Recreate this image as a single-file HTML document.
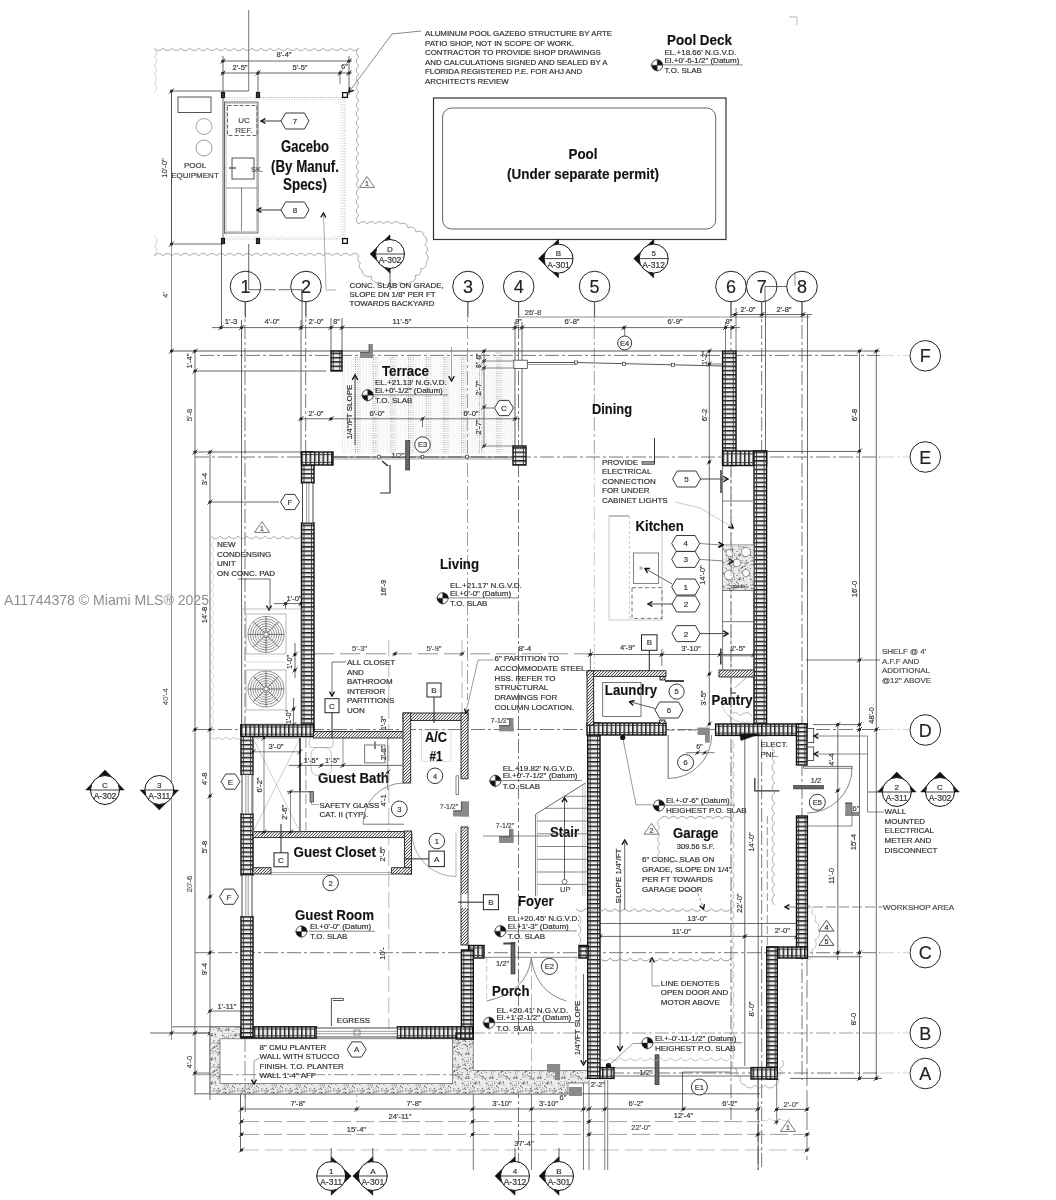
<!DOCTYPE html>
<html><head><meta charset="utf-8"><title>Floor Plan</title>
<style>html,body{margin:0;padding:0;background:#fff;}svg{display:block;font-family:"Liberation Sans",sans-serif;}text{stroke:#333;stroke-width:0.18px;}</style>
</head><body>
<svg width="1056" height="1200" viewBox="0 0 1056 1200">
<defs>
<pattern id="cmuV" width="6" height="4.3" patternUnits="userSpaceOnUse"><rect width="6" height="4.3" fill="#f2f2f2"/><rect x="0" y="0" width="6" height="1.5" fill="#1c1c1c"/><rect x="0" y="1.5" width="6" height="0.5" fill="#999"/></pattern>
<pattern id="cmuH" width="4.3" height="6" patternUnits="userSpaceOnUse"><rect width="4.3" height="6" fill="#f2f2f2"/><rect x="0" y="0" width="1.5" height="6" fill="#1c1c1c"/><rect x="1.5" y="0" width="0.5" height="6" fill="#999"/></pattern>
<pattern id="diag" width="3" height="3" patternUnits="userSpaceOnUse"><rect width="3" height="3" fill="#ececec"/><path d="M-1,1 L1,-1 M0,3 L3,0 M2,4 L4,2" stroke="#444" stroke-width="0.9"/></pattern>
<pattern id="stip" width="24" height="24" patternUnits="userSpaceOnUse"><rect width="24" height="24" fill="#ececec"/><circle cx="7.8" cy="3.6" r="0.35" fill="#555"/><circle cx="1.7" cy="12.9" r="0.55" fill="#555"/><circle cx="14.0" cy="21.8" r="0.45" fill="#555"/><circle cx="0.9" cy="10.4" r="0.35" fill="#555"/><circle cx="5.8" cy="13.2" r="0.35" fill="#555"/><circle cx="19.8" cy="3.0" r="0.45" fill="#555"/><circle cx="15.1" cy="14.0" r="0.35" fill="#555"/><circle cx="13.9" cy="9.5" r="0.45" fill="#555"/><circle cx="1.1" cy="20.6" r="0.55" fill="#555"/><circle cx="10.1" cy="13.0" r="0.55" fill="#555"/><circle cx="13.4" cy="16.4" r="0.35" fill="#555"/><circle cx="14.0" cy="15.3" r="0.55" fill="#555"/><circle cx="2.3" cy="17.1" r="0.35" fill="#555"/><circle cx="14.9" cy="11.9" r="0.65" fill="#555"/><circle cx="18.7" cy="11.2" r="0.65" fill="#555"/><circle cx="8.7" cy="6.0" r="0.45" fill="#555"/><circle cx="16.8" cy="5.9" r="0.55" fill="#555"/><circle cx="12.6" cy="21.0" r="0.65" fill="#555"/><circle cx="6.9" cy="23.5" r="0.35" fill="#555"/><circle cx="12.3" cy="4.0" r="0.55" fill="#555"/><circle cx="3.6" cy="11.7" r="0.35" fill="#555"/><circle cx="23.1" cy="1.9" r="0.55" fill="#555"/><circle cx="8.2" cy="8.4" r="0.65" fill="#555"/><circle cx="13.9" cy="10.9" r="0.35" fill="#555"/><circle cx="22.7" cy="11.4" r="0.35" fill="#555"/><circle cx="1.5" cy="16.8" r="0.65" fill="#555"/><circle cx="6.8" cy="9.3" r="0.55" fill="#555"/><circle cx="0.5" cy="11.1" r="0.45" fill="#555"/><circle cx="14.7" cy="11.8" r="0.45" fill="#555"/><circle cx="18.4" cy="3.1" r="0.45" fill="#555"/><circle cx="9.5" cy="22.0" r="0.65" fill="#555"/><circle cx="1.9" cy="10.8" r="0.55" fill="#555"/><circle cx="21.2" cy="19.7" r="0.55" fill="#555"/><circle cx="17.0" cy="23.7" r="0.65" fill="#555"/><circle cx="23.0" cy="3.6" r="0.45" fill="#555"/><circle cx="3.6" cy="15.8" r="0.35" fill="#555"/><circle cx="11.6" cy="14.1" r="0.55" fill="#555"/><circle cx="6.8" cy="3.5" r="0.55" fill="#555"/><circle cx="14.6" cy="7.6" r="0.45" fill="#555"/><circle cx="16.6" cy="12.4" r="0.35" fill="#555"/><circle cx="11.0" cy="20.9" r="0.65" fill="#555"/><circle cx="9.6" cy="9.5" r="0.65" fill="#555"/><circle cx="15.2" cy="1.5" r="0.35" fill="#555"/><circle cx="23.6" cy="10.6" r="0.35" fill="#555"/><circle cx="8.2" cy="1.3" r="0.35" fill="#555"/><circle cx="13.6" cy="12.9" r="0.55" fill="#555"/><circle cx="14.7" cy="1.7" r="0.45" fill="#555"/><circle cx="14.7" cy="3.6" r="0.55" fill="#555"/><circle cx="22.9" cy="14.5" r="0.65" fill="#555"/><circle cx="2.9" cy="20.4" r="0.65" fill="#555"/><circle cx="11.5" cy="7.5" r="0.45" fill="#555"/><circle cx="2.5" cy="8.2" r="0.55" fill="#555"/><circle cx="11.5" cy="16.6" r="0.35" fill="#555"/><circle cx="4.9" cy="22.8" r="0.55" fill="#555"/><circle cx="3.5" cy="13.0" r="0.35" fill="#555"/><circle cx="18.2" cy="7.2" r="0.35" fill="#555"/><circle cx="16.7" cy="6.3" r="0.55" fill="#555"/><circle cx="21.8" cy="8.5" r="0.45" fill="#555"/><circle cx="12.8" cy="18.7" r="0.55" fill="#555"/><circle cx="15.3" cy="14.7" r="0.45" fill="#555"/><circle cx="19.3" cy="19.6" r="0.45" fill="#555"/><circle cx="4.8" cy="11.8" r="0.35" fill="#555"/><circle cx="23.8" cy="19.0" r="0.65" fill="#555"/><circle cx="6.2" cy="16.6" r="0.55" fill="#555"/><circle cx="10.7" cy="22.5" r="0.55" fill="#555"/><circle cx="22.9" cy="8.8" r="0.45" fill="#555"/><circle cx="2.5" cy="11.3" r="0.55" fill="#555"/><circle cx="4.9" cy="15.0" r="0.35" fill="#555"/><circle cx="11.5" cy="15.7" r="0.35" fill="#555"/><circle cx="20.0" cy="2.9" r="0.65" fill="#555"/><circle cx="18.8" cy="18.0" r="0.65" fill="#555"/><circle cx="21.3" cy="10.4" r="0.55" fill="#555"/><circle cx="2.1" cy="22.7" r="0.65" fill="#555"/><circle cx="11.1" cy="17.8" r="0.35" fill="#555"/><circle cx="17.4" cy="4.1" r="0.45" fill="#555"/><circle cx="0.7" cy="14.2" r="0.65" fill="#555"/><circle cx="19.4" cy="3.5" r="0.65" fill="#555"/><circle cx="15.8" cy="8.4" r="0.45" fill="#555"/><circle cx="0.5" cy="19.2" r="0.35" fill="#555"/><circle cx="12.6" cy="22.4" r="0.65" fill="#555"/><circle cx="23.7" cy="4.7" r="0.45" fill="#555"/><circle cx="0.7" cy="5.1" r="0.45" fill="#555"/><circle cx="18.3" cy="7.8" r="0.65" fill="#555"/><circle cx="20.0" cy="1.5" r="0.55" fill="#555"/><circle cx="21.5" cy="15.9" r="0.65" fill="#555"/><circle cx="19.9" cy="21.1" r="0.45" fill="#555"/><circle cx="12.8" cy="12.6" r="0.35" fill="#555"/><circle cx="20.9" cy="18.6" r="0.35" fill="#555"/><circle cx="18.6" cy="3.6" r="0.45" fill="#555"/><circle cx="11.4" cy="17.4" r="0.35" fill="#555"/><circle cx="7.8" cy="12.4" r="0.65" fill="#555"/><circle cx="18.8" cy="2.5" r="0.35" fill="#555"/><circle cx="6.0" cy="6.6" r="0.35" fill="#555"/><circle cx="12.2" cy="13.5" r="0.35" fill="#555"/><circle cx="10.6" cy="14.7" r="0.45" fill="#555"/><circle cx="16.6" cy="10.9" r="0.65" fill="#555"/><circle cx="12.2" cy="5.9" r="0.55" fill="#555"/><circle cx="22.1" cy="21.4" r="0.45" fill="#555"/><circle cx="20.2" cy="3.3" r="0.35" fill="#555"/><circle cx="9.4" cy="7.6" r="0.45" fill="#555"/><circle cx="10.3" cy="5.1" r="0.55" fill="#555"/><circle cx="18.8" cy="21.5" r="0.45" fill="#555"/><circle cx="22.5" cy="15.4" r="0.55" fill="#555"/><circle cx="3.4" cy="21.2" r="0.65" fill="#555"/><circle cx="5.3" cy="22.9" r="0.65" fill="#555"/><circle cx="21.2" cy="3.9" r="0.45" fill="#555"/><circle cx="3.9" cy="10.4" r="0.65" fill="#555"/><circle cx="8.1" cy="4.7" r="0.55" fill="#555"/><circle cx="2.2" cy="8.8" r="0.55" fill="#555"/><circle cx="13.3" cy="10.6" r="0.35" fill="#555"/><circle cx="9.2" cy="12.4" r="0.55" fill="#555"/><circle cx="12.3" cy="1.5" r="0.45" fill="#555"/><circle cx="23.3" cy="2.5" r="0.55" fill="#555"/><circle cx="6.5" cy="21.7" r="0.45" fill="#555"/><circle cx="6.5" cy="3.1" r="0.65" fill="#555"/><circle cx="20.4" cy="16.2" r="0.55" fill="#555"/><circle cx="9.7" cy="12.9" r="0.65" fill="#555"/><circle cx="16.8" cy="2.1" r="0.35" fill="#555"/><circle cx="19.2" cy="4.4" r="0.35" fill="#555"/><circle cx="6.5" cy="0.4" r="0.35" fill="#555"/></pattern>
<pattern id="terr" x="355" y="357" width="17.7" height="2.3" patternUnits="userSpaceOnUse"><rect x="0" y="0" width="1" height="1" fill="#888"/><rect x="2.2" y="0" width="1" height="1" fill="#999"/><rect x="4.4" y="0" width="1" height="1" fill="#aaa"/><rect x="7.4" y="1.1" width="0.9" height="0.9" fill="#ccc"/><rect x="10.4" y="0" width="0.9" height="0.9" fill="#ccc"/><rect x="13.4" y="1.1" width="0.9" height="0.9" fill="#ccc"/><rect x="15.6" y="0" width="0.9" height="0.9" fill="#d5d5d5"/></pattern>
</defs>
<rect width="1056" height="1200" fill="#fff"/>
<g style="filter:blur(0.45px)">
<line x1="245.0" y1="302.0" x2="245.0" y2="1040.0" stroke="#555" stroke-width="0.8" stroke-dasharray="14 3 3 3"/>
<line x1="305.7" y1="302.0" x2="305.7" y2="724.0" stroke="#555" stroke-width="0.8" stroke-dasharray="14 3 3 3"/>
<line x1="467.5" y1="302.0" x2="467.5" y2="700.0" stroke="#777" stroke-width="0.7" stroke-dasharray="14 3 3 3"/>
<line x1="518.5" y1="302.0" x2="518.5" y2="1170.0" stroke="#555" stroke-width="0.8" stroke-dasharray="14 3 3 3"/>
<line x1="594.3" y1="302.0" x2="594.3" y2="460.0" stroke="#777" stroke-width="0.7" stroke-dasharray="14 3 3 3"/>
<line x1="594.3" y1="460.0" x2="594.3" y2="725.0" stroke="#aaa" stroke-width="0.6" stroke-dasharray="14 3 3 3"/>
<line x1="731.0" y1="302.0" x2="731.0" y2="1120.0" stroke="#555" stroke-width="0.8" stroke-dasharray="14 3 3 3"/>
<line x1="761.7" y1="302.0" x2="761.7" y2="1170.0" stroke="#555" stroke-width="0.8" stroke-dasharray="14 3 3 3"/>
<line x1="802.0" y1="302.0" x2="802.0" y2="1080.0" stroke="#555" stroke-width="0.8" stroke-dasharray="14 3 3 3"/>
<line x1="200.0" y1="355.4" x2="880.0" y2="355.4" stroke="#555" stroke-width="0.8" stroke-dasharray="14 3 3 3"/>
<line x1="880.0" y1="355.4" x2="909.0" y2="355.4" stroke="#bbb" stroke-width="0.6" stroke-dasharray="14 3 3 3"/>
<line x1="195.0" y1="457.0" x2="880.0" y2="457.0" stroke="#555" stroke-width="0.8" stroke-dasharray="14 3 3 3"/>
<line x1="880.0" y1="457.0" x2="909.0" y2="457.0" stroke="#bbb" stroke-width="0.6" stroke-dasharray="14 3 3 3"/>
<line x1="195.0" y1="729.5" x2="880.0" y2="729.5" stroke="#555" stroke-width="0.8" stroke-dasharray="14 3 3 3"/>
<line x1="880.0" y1="729.5" x2="909.0" y2="729.5" stroke="#bbb" stroke-width="0.6" stroke-dasharray="14 3 3 3"/>
<line x1="195.0" y1="952.7" x2="880.0" y2="952.7" stroke="#555" stroke-width="0.8" stroke-dasharray="14 3 3 3"/>
<line x1="880.0" y1="952.7" x2="909.0" y2="952.7" stroke="#bbb" stroke-width="0.6" stroke-dasharray="14 3 3 3"/>
<line x1="195.0" y1="1033.0" x2="880.0" y2="1033.0" stroke="#777" stroke-width="0.7" stroke-dasharray="14 3 3 3"/>
<line x1="880.0" y1="1033.0" x2="909.0" y2="1033.0" stroke="#bbb" stroke-width="0.6" stroke-dasharray="14 3 3 3"/>
<line x1="196.0" y1="1073.0" x2="880.0" y2="1073.0" stroke="#555" stroke-width="0.8" stroke-dasharray="14 3 3 3"/>
<line x1="880.0" y1="1073.0" x2="909.0" y2="1073.0" stroke="#bbb" stroke-width="0.6" stroke-dasharray="14 3 3 3"/>
<line x1="212.0" y1="327.6" x2="740.0" y2="327.6" stroke="#444" stroke-width="0.8"/>
<circle cx="221.0" cy="327.6" r="1.6" fill="#222"/>
<line x1="218.5" y1="330.1" x2="223.5" y2="325.1" stroke="#222" stroke-width="0.9"/>
<circle cx="241.5" cy="327.6" r="1.6" fill="#222"/>
<line x1="239.0" y1="330.1" x2="244.0" y2="325.1" stroke="#222" stroke-width="0.9"/>
<circle cx="301.0" cy="327.6" r="1.6" fill="#222"/>
<line x1="298.5" y1="330.1" x2="303.5" y2="325.1" stroke="#222" stroke-width="0.9"/>
<circle cx="331.0" cy="327.6" r="1.6" fill="#222"/>
<line x1="328.5" y1="330.1" x2="333.5" y2="325.1" stroke="#222" stroke-width="0.9"/>
<circle cx="342.0" cy="327.6" r="1.6" fill="#222"/>
<line x1="339.5" y1="330.1" x2="344.5" y2="325.1" stroke="#222" stroke-width="0.9"/>
<circle cx="515.0" cy="327.6" r="1.6" fill="#222"/>
<line x1="512.5" y1="330.1" x2="517.5" y2="325.1" stroke="#222" stroke-width="0.9"/>
<circle cx="522.0" cy="327.6" r="1.6" fill="#222"/>
<line x1="519.5" y1="330.1" x2="524.5" y2="325.1" stroke="#222" stroke-width="0.9"/>
<circle cx="624.0" cy="327.6" r="1.6" fill="#222"/>
<line x1="621.5" y1="330.1" x2="626.5" y2="325.1" stroke="#222" stroke-width="0.9"/>
<circle cx="725.5" cy="327.6" r="1.6" fill="#222"/>
<line x1="723.0" y1="330.1" x2="728.0" y2="325.1" stroke="#222" stroke-width="0.9"/>
<circle cx="732.6" cy="327.6" r="1.6" fill="#222"/>
<line x1="730.1" y1="330.1" x2="735.1" y2="325.1" stroke="#222" stroke-width="0.9"/>
<line x1="518.0" y1="317.0" x2="810.0" y2="317.0" stroke="#666" stroke-width="0.7"/>
<line x1="731.0" y1="314.5" x2="812.0" y2="314.5" stroke="#444" stroke-width="0.8"/>
<circle cx="735.0" cy="314.5" r="1.6" fill="#222"/>
<line x1="732.5" y1="317.0" x2="737.5" y2="312.0" stroke="#222" stroke-width="0.9"/>
<circle cx="762.0" cy="314.5" r="1.6" fill="#222"/>
<line x1="759.5" y1="317.0" x2="764.5" y2="312.0" stroke="#222" stroke-width="0.9"/>
<circle cx="803.0" cy="314.5" r="1.6" fill="#222"/>
<line x1="800.5" y1="317.0" x2="805.5" y2="312.0" stroke="#222" stroke-width="0.9"/>
<line x1="241.5" y1="320.0" x2="241.5" y2="735.0" stroke="#444" stroke-width="0.8"/>
<line x1="301.0" y1="320.0" x2="301.0" y2="455.0" stroke="#444" stroke-width="0.8"/>
<line x1="331.0" y1="318.0" x2="331.0" y2="352.0" stroke="#444" stroke-width="0.8"/>
<line x1="342.0" y1="318.0" x2="342.0" y2="352.0" stroke="#444" stroke-width="0.8"/>
<line x1="515.0" y1="322.0" x2="515.0" y2="450.0" stroke="#444" stroke-width="0.8"/>
<line x1="522.0" y1="322.0" x2="522.0" y2="450.0" stroke="#444" stroke-width="0.8"/>
<line x1="725.5" y1="322.0" x2="725.5" y2="352.0" stroke="#444" stroke-width="0.7"/>
<line x1="736.0" y1="308.0" x2="736.0" y2="352.0" stroke="#444" stroke-width="0.7"/>
<line x1="765.5" y1="291.0" x2="765.5" y2="452.0" stroke="#444" stroke-width="0.8"/>
<line x1="758.2" y1="735.0" x2="758.2" y2="1170.0" stroke="#444" stroke-width="0.8"/>
<line x1="807.5" y1="315.0" x2="807.5" y2="460.0" stroke="#444" stroke-width="0.8"/>
<line x1="766.6" y1="451.5" x2="860.0" y2="451.5" stroke="#444" stroke-width="0.8"/>
<line x1="172.0" y1="351.0" x2="722.0" y2="351.0" stroke="#444" stroke-width="0.9"/>
<line x1="736.0" y1="351.0" x2="880.0" y2="351.0" stroke="#444" stroke-width="0.8"/>
<line x1="195.0" y1="371.0" x2="326.0" y2="371.0" stroke="#444" stroke-width="0.8"/>
<line x1="171.5" y1="90.0" x2="171.5" y2="1040.0" stroke="#666" stroke-width="0.7"/>
<line x1="195.0" y1="351.0" x2="195.0" y2="1095.0" stroke="#444" stroke-width="0.8"/>
<line x1="210.0" y1="452.0" x2="210.0" y2="1100.0" stroke="#444" stroke-width="0.8"/>
<circle cx="195.0" cy="351.0" r="1.6" fill="#222"/>
<line x1="192.5" y1="353.5" x2="197.5" y2="348.5" stroke="#222" stroke-width="0.9"/>
<circle cx="195.0" cy="371.0" r="1.6" fill="#222"/>
<line x1="192.5" y1="373.5" x2="197.5" y2="368.5" stroke="#222" stroke-width="0.9"/>
<circle cx="195.0" cy="452.0" r="1.6" fill="#222"/>
<line x1="192.5" y1="454.5" x2="197.5" y2="449.5" stroke="#222" stroke-width="0.9"/>
<circle cx="195.0" cy="729.5" r="1.6" fill="#222"/>
<line x1="192.5" y1="732.0" x2="197.5" y2="727.0" stroke="#222" stroke-width="0.9"/>
<circle cx="195.0" cy="1033.0" r="1.6" fill="#222"/>
<line x1="192.5" y1="1035.5" x2="197.5" y2="1030.5" stroke="#222" stroke-width="0.9"/>
<circle cx="195.0" cy="1073.0" r="1.6" fill="#222"/>
<line x1="192.5" y1="1075.5" x2="197.5" y2="1070.5" stroke="#222" stroke-width="0.9"/>
<circle cx="171.5" cy="351.0" r="1.6" fill="#222"/>
<line x1="169.0" y1="353.5" x2="174.0" y2="348.5" stroke="#222" stroke-width="0.9"/>
<circle cx="171.5" cy="1033.0" r="1.6" fill="#222"/>
<line x1="169.0" y1="1035.5" x2="174.0" y2="1030.5" stroke="#222" stroke-width="0.9"/>
<circle cx="210.0" cy="452.0" r="1.6" fill="#222"/>
<line x1="207.5" y1="454.5" x2="212.5" y2="449.5" stroke="#222" stroke-width="0.9"/>
<circle cx="210.0" cy="502.0" r="1.6" fill="#222"/>
<line x1="207.5" y1="504.5" x2="212.5" y2="499.5" stroke="#222" stroke-width="0.9"/>
<circle cx="210.0" cy="729.5" r="1.6" fill="#222"/>
<line x1="207.5" y1="732.0" x2="212.5" y2="727.0" stroke="#222" stroke-width="0.9"/>
<circle cx="210.0" cy="796.0" r="1.6" fill="#222"/>
<line x1="207.5" y1="798.5" x2="212.5" y2="793.5" stroke="#222" stroke-width="0.9"/>
<circle cx="210.0" cy="896.7" r="1.6" fill="#222"/>
<line x1="207.5" y1="899.2" x2="212.5" y2="894.2" stroke="#222" stroke-width="0.9"/>
<circle cx="210.0" cy="952.7" r="1.6" fill="#222"/>
<line x1="207.5" y1="955.2" x2="212.5" y2="950.2" stroke="#222" stroke-width="0.9"/>
<circle cx="210.0" cy="1011.0" r="1.6" fill="#222"/>
<line x1="207.5" y1="1013.5" x2="212.5" y2="1008.5" stroke="#222" stroke-width="0.9"/>
<circle cx="210.0" cy="1033.0" r="1.6" fill="#222"/>
<line x1="207.5" y1="1035.5" x2="212.5" y2="1030.5" stroke="#222" stroke-width="0.9"/>
<line x1="195.0" y1="452.0" x2="301.0" y2="452.0" stroke="#444" stroke-width="0.8"/>
<line x1="210.0" y1="502.0" x2="279.0" y2="502.0" stroke="#444" stroke-width="0.8"/>
<line x1="210.0" y1="1011.0" x2="241.0" y2="1011.0" stroke="#444" stroke-width="0.8"/>
<line x1="150.0" y1="1033.0" x2="241.0" y2="1033.0" stroke="#444" stroke-width="0.8"/>
<line x1="172.0" y1="1026.8" x2="241.0" y2="1026.8" stroke="#444" stroke-width="0.8"/>
<line x1="807.5" y1="460.0" x2="807.5" y2="725.0" stroke="#444" stroke-width="0.8"/>
<line x1="837.8" y1="724.0" x2="837.8" y2="960.0" stroke="#444" stroke-width="0.8"/>
<line x1="813.0" y1="724.6" x2="860.0" y2="724.6" stroke="#444" stroke-width="0.8"/>
<line x1="859.5" y1="351.0" x2="859.5" y2="1080.0" stroke="#444" stroke-width="0.8"/>
<line x1="876.3" y1="351.0" x2="876.3" y2="1080.0" stroke="#444" stroke-width="0.8"/>
<circle cx="859.5" cy="351.0" r="1.6" fill="#222"/>
<line x1="857.0" y1="353.5" x2="862.0" y2="348.5" stroke="#222" stroke-width="0.9"/>
<circle cx="859.5" cy="451.0" r="1.6" fill="#222"/>
<line x1="857.0" y1="453.5" x2="862.0" y2="448.5" stroke="#222" stroke-width="0.9"/>
<circle cx="859.5" cy="660.0" r="1.6" fill="#222"/>
<line x1="857.0" y1="662.5" x2="862.0" y2="657.5" stroke="#222" stroke-width="0.9"/>
<circle cx="859.5" cy="729.5" r="1.6" fill="#222"/>
<line x1="857.0" y1="732.0" x2="862.0" y2="727.0" stroke="#222" stroke-width="0.9"/>
<circle cx="859.5" cy="952.7" r="1.6" fill="#222"/>
<line x1="857.0" y1="955.2" x2="862.0" y2="950.2" stroke="#222" stroke-width="0.9"/>
<circle cx="859.5" cy="1078.4" r="1.6" fill="#222"/>
<line x1="857.0" y1="1080.9" x2="862.0" y2="1075.9" stroke="#222" stroke-width="0.9"/>
<circle cx="876.3" cy="351.0" r="1.6" fill="#222"/>
<line x1="873.8" y1="353.5" x2="878.8" y2="348.5" stroke="#222" stroke-width="0.9"/>
<circle cx="876.3" cy="729.5" r="1.6" fill="#222"/>
<line x1="873.8" y1="732.0" x2="878.8" y2="727.0" stroke="#222" stroke-width="0.9"/>
<circle cx="876.3" cy="1078.4" r="1.6" fill="#222"/>
<line x1="873.8" y1="1080.9" x2="878.8" y2="1075.9" stroke="#222" stroke-width="0.9"/>
<circle cx="837.8" cy="724.6" r="1.6" fill="#222"/>
<line x1="835.3" y1="727.1" x2="840.3" y2="722.1" stroke="#222" stroke-width="0.9"/>
<circle cx="837.8" cy="790.5" r="1.6" fill="#222"/>
<line x1="835.3" y1="793.0" x2="840.3" y2="788.0" stroke="#222" stroke-width="0.9"/>
<circle cx="837.8" cy="952.7" r="1.6" fill="#222"/>
<line x1="835.3" y1="955.2" x2="840.3" y2="950.2" stroke="#222" stroke-width="0.9"/>
<circle cx="859.5" cy="724.6" r="1.6" fill="#222"/>
<line x1="857.0" y1="727.1" x2="862.0" y2="722.1" stroke="#222" stroke-width="0.9"/>
<line x1="806.0" y1="660.0" x2="880.0" y2="660.0" stroke="#444" stroke-width="0.7"/>
<line x1="807.0" y1="956.8" x2="862.0" y2="956.8" stroke="#444" stroke-width="0.8"/>
<line x1="790.0" y1="1078.4" x2="882.0" y2="1078.4" stroke="#444" stroke-width="0.8"/>
<line x1="709.3" y1="351.0" x2="709.3" y2="725.0" stroke="#444" stroke-width="0.8"/>
<circle cx="709.3" cy="351.0" r="1.6" fill="#222"/>
<line x1="706.8" y1="353.5" x2="711.8" y2="348.5" stroke="#222" stroke-width="0.9"/>
<circle cx="709.3" cy="364.0" r="1.6" fill="#222"/>
<line x1="706.8" y1="366.5" x2="711.8" y2="361.5" stroke="#222" stroke-width="0.9"/>
<circle cx="709.3" cy="462.0" r="1.6" fill="#222"/>
<line x1="706.8" y1="464.5" x2="711.8" y2="459.5" stroke="#222" stroke-width="0.9"/>
<circle cx="709.3" cy="674.0" r="1.6" fill="#222"/>
<line x1="706.8" y1="676.5" x2="711.8" y2="671.5" stroke="#222" stroke-width="0.9"/>
<circle cx="709.3" cy="724.0" r="1.6" fill="#222"/>
<line x1="706.8" y1="726.5" x2="711.8" y2="721.5" stroke="#222" stroke-width="0.9"/>
<line x1="709.0" y1="364.0" x2="722.0" y2="364.0" stroke="#444" stroke-width="0.7"/>
<line x1="195.0" y1="1093.8" x2="760.0" y2="1093.8" stroke="#444" stroke-width="0.8"/>
<line x1="241.0" y1="1109.0" x2="760.0" y2="1109.0" stroke="#444" stroke-width="0.8"/>
<circle cx="241.5" cy="1109.0" r="1.6" fill="#222"/>
<line x1="239.0" y1="1111.5" x2="244.0" y2="1106.5" stroke="#222" stroke-width="0.9"/>
<circle cx="356.7" cy="1109.0" r="1.6" fill="#222"/>
<line x1="354.2" y1="1111.5" x2="359.2" y2="1106.5" stroke="#222" stroke-width="0.9"/>
<circle cx="472.6" cy="1109.0" r="1.6" fill="#222"/>
<line x1="470.1" y1="1111.5" x2="475.1" y2="1106.5" stroke="#222" stroke-width="0.9"/>
<circle cx="531.5" cy="1109.0" r="1.6" fill="#222"/>
<line x1="529.0" y1="1111.5" x2="534.0" y2="1106.5" stroke="#222" stroke-width="0.9"/>
<circle cx="583.5" cy="1109.0" r="1.6" fill="#222"/>
<line x1="581.0" y1="1111.5" x2="586.0" y2="1106.5" stroke="#222" stroke-width="0.9"/>
<circle cx="589.0" cy="1109.0" r="1.6" fill="#222"/>
<line x1="586.5" y1="1111.5" x2="591.5" y2="1106.5" stroke="#222" stroke-width="0.9"/>
<circle cx="604.8" cy="1109.0" r="1.6" fill="#222"/>
<line x1="602.3" y1="1111.5" x2="607.3" y2="1106.5" stroke="#222" stroke-width="0.9"/>
<circle cx="683.5" cy="1109.0" r="1.6" fill="#222"/>
<line x1="681.0" y1="1111.5" x2="686.0" y2="1106.5" stroke="#222" stroke-width="0.9"/>
<circle cx="758.0" cy="1109.0" r="1.6" fill="#222"/>
<line x1="755.5" y1="1111.5" x2="760.5" y2="1106.5" stroke="#222" stroke-width="0.9"/>
<line x1="241.0" y1="1121.6" x2="760.0" y2="1121.6" stroke="#777" stroke-width="0.7" stroke-dasharray="18 5"/>
<circle cx="241.5" cy="1121.6" r="1.6" fill="#222"/>
<line x1="239.0" y1="1124.1" x2="244.0" y2="1119.1" stroke="#222" stroke-width="0.9"/>
<circle cx="472.6" cy="1121.6" r="1.6" fill="#222"/>
<line x1="470.1" y1="1124.1" x2="475.1" y2="1119.1" stroke="#222" stroke-width="0.9"/>
<circle cx="589.0" cy="1121.6" r="1.6" fill="#222"/>
<line x1="586.5" y1="1124.1" x2="591.5" y2="1119.1" stroke="#222" stroke-width="0.9"/>
<line x1="241.0" y1="1134.4" x2="810.0" y2="1134.4" stroke="#777" stroke-width="0.7" stroke-dasharray="18 5"/>
<circle cx="241.5" cy="1134.4" r="1.6" fill="#222"/>
<line x1="239.0" y1="1136.9" x2="244.0" y2="1131.9" stroke="#222" stroke-width="0.9"/>
<circle cx="472.6" cy="1134.4" r="1.6" fill="#222"/>
<line x1="470.1" y1="1136.9" x2="475.1" y2="1131.9" stroke="#222" stroke-width="0.9"/>
<circle cx="589.0" cy="1134.4" r="1.6" fill="#222"/>
<line x1="586.5" y1="1136.9" x2="591.5" y2="1131.9" stroke="#222" stroke-width="0.9"/>
<circle cx="758.0" cy="1134.4" r="1.6" fill="#222"/>
<line x1="755.5" y1="1136.9" x2="760.5" y2="1131.9" stroke="#222" stroke-width="0.9"/>
<line x1="241.0" y1="1150.0" x2="810.0" y2="1150.0" stroke="#999" stroke-width="0.6" stroke-dasharray="18 6"/>
<circle cx="241.5" cy="1150.0" r="1.6" fill="#222"/>
<line x1="239.0" y1="1152.5" x2="244.0" y2="1147.5" stroke="#222" stroke-width="0.9"/>
<circle cx="807.0" cy="1150.0" r="1.6" fill="#222"/>
<line x1="804.5" y1="1152.5" x2="809.5" y2="1147.5" stroke="#222" stroke-width="0.9"/>
<circle cx="807.0" cy="1134.4" r="1.6" fill="#222"/>
<line x1="804.5" y1="1136.9" x2="809.5" y2="1131.9" stroke="#222" stroke-width="0.9"/>
<line x1="776.7" y1="1109.4" x2="808.0" y2="1109.4" stroke="#444" stroke-width="0.8"/>
<circle cx="776.7" cy="1109.4" r="1.6" fill="#222"/>
<line x1="774.2" y1="1111.9" x2="779.2" y2="1106.9" stroke="#222" stroke-width="0.9"/>
<circle cx="807.0" cy="1109.4" r="1.6" fill="#222"/>
<line x1="804.5" y1="1111.9" x2="809.5" y2="1106.9" stroke="#222" stroke-width="0.9"/>
<circle cx="776.7" cy="1121.6" r="1.6" fill="#222"/>
<line x1="774.2" y1="1124.1" x2="779.2" y2="1119.1" stroke="#222" stroke-width="0.9"/>
<line x1="240.5" y1="1038.0" x2="240.5" y2="1152.0" stroke="#444" stroke-width="0.8"/>
<line x1="245.3" y1="1038.0" x2="245.3" y2="1112.0" stroke="#444" stroke-width="0.7"/>
<line x1="473.3" y1="1080.0" x2="473.3" y2="1170.0" stroke="#444" stroke-width="0.7"/>
<line x1="531.5" y1="1080.0" x2="531.5" y2="1170.0" stroke="#444" stroke-width="0.7"/>
<line x1="583.5" y1="1080.0" x2="583.5" y2="1170.0" stroke="#444" stroke-width="0.7"/>
<line x1="589.0" y1="1080.0" x2="589.0" y2="1170.0" stroke="#444" stroke-width="0.7"/>
<line x1="604.8" y1="1080.0" x2="604.8" y2="1170.0" stroke="#444" stroke-width="0.7"/>
<line x1="607.7" y1="1080.0" x2="607.7" y2="1170.0" stroke="#444" stroke-width="0.7"/>
<line x1="356.7" y1="1060.0" x2="356.7" y2="1112.0" stroke="#888" stroke-width="0.6" stroke-dasharray="14 3 3 3"/>
<line x1="758.0" y1="1080.0" x2="758.0" y2="1170.0" stroke="#444" stroke-width="0.7" stroke-dasharray="18 4"/>
<line x1="776.7" y1="1079.0" x2="776.7" y2="1125.0" stroke="#444" stroke-width="0.7"/>
<line x1="807.0" y1="958.0" x2="807.0" y2="1160.0" stroke="#444" stroke-width="0.7" stroke-dasharray="18 4"/>
<line x1="301.0" y1="418.8" x2="520.0" y2="418.8" stroke="#444" stroke-width="0.8"/>
<circle cx="301.0" cy="418.8" r="1.6" fill="#222"/>
<line x1="298.5" y1="421.2" x2="303.5" y2="416.2" stroke="#222" stroke-width="0.9"/>
<circle cx="331.0" cy="418.8" r="1.6" fill="#222"/>
<line x1="328.5" y1="421.2" x2="333.5" y2="416.2" stroke="#222" stroke-width="0.9"/>
<circle cx="422.5" cy="418.8" r="1.6" fill="#222"/>
<line x1="420.0" y1="421.2" x2="425.0" y2="416.2" stroke="#222" stroke-width="0.9"/>
<circle cx="515.0" cy="418.8" r="1.6" fill="#222"/>
<line x1="512.5" y1="421.2" x2="517.5" y2="416.2" stroke="#222" stroke-width="0.9"/>
<line x1="422.5" y1="418.8" x2="422.5" y2="427.0" stroke="#444" stroke-width="0.8"/>
<line x1="484.0" y1="351.0" x2="484.0" y2="447.0" stroke="#444" stroke-width="0.8"/>
<circle cx="484.0" cy="351.0" r="1.6" fill="#222"/>
<line x1="481.5" y1="353.5" x2="486.5" y2="348.5" stroke="#222" stroke-width="0.9"/>
<circle cx="484.0" cy="361.0" r="1.6" fill="#222"/>
<line x1="481.5" y1="363.5" x2="486.5" y2="358.5" stroke="#222" stroke-width="0.9"/>
<circle cx="484.0" cy="368.0" r="1.6" fill="#222"/>
<line x1="481.5" y1="370.5" x2="486.5" y2="365.5" stroke="#222" stroke-width="0.9"/>
<circle cx="484.0" cy="407.0" r="1.6" fill="#222"/>
<line x1="481.5" y1="409.5" x2="486.5" y2="404.5" stroke="#222" stroke-width="0.9"/>
<circle cx="484.0" cy="446.0" r="1.6" fill="#222"/>
<line x1="481.5" y1="448.5" x2="486.5" y2="443.5" stroke="#222" stroke-width="0.9"/>
<line x1="484.0" y1="446.0" x2="514.0" y2="446.0" stroke="#444" stroke-width="0.7"/>
<line x1="484.0" y1="368.0" x2="515.0" y2="368.0" stroke="#444" stroke-width="0.7"/>
<line x1="484.0" y1="361.0" x2="515.0" y2="361.0" stroke="#444" stroke-width="0.7"/>
<line x1="314.0" y1="653.8" x2="590.0" y2="653.8" stroke="#666" stroke-width="0.7" stroke-dasharray="20 6"/>
<circle cx="395.0" cy="653.8" r="1.6" fill="#222"/>
<line x1="392.5" y1="656.2" x2="397.5" y2="651.2" stroke="#222" stroke-width="0.9"/>
<circle cx="462.0" cy="653.8" r="1.6" fill="#222"/>
<line x1="459.5" y1="656.2" x2="464.5" y2="651.2" stroke="#222" stroke-width="0.9"/>
<line x1="588.0" y1="654.5" x2="756.0" y2="654.5" stroke="#444" stroke-width="0.8"/>
<circle cx="590.4" cy="654.5" r="1.6" fill="#222"/>
<line x1="587.9" y1="657.0" x2="592.9" y2="652.0" stroke="#222" stroke-width="0.9"/>
<circle cx="661.8" cy="654.5" r="1.6" fill="#222"/>
<line x1="659.3" y1="657.0" x2="664.3" y2="652.0" stroke="#222" stroke-width="0.9"/>
<circle cx="720.0" cy="654.5" r="1.6" fill="#222"/>
<line x1="717.5" y1="657.0" x2="722.5" y2="652.0" stroke="#222" stroke-width="0.9"/>
<circle cx="754.0" cy="654.5" r="1.6" fill="#222"/>
<line x1="751.5" y1="657.0" x2="756.5" y2="652.0" stroke="#222" stroke-width="0.9"/>
<line x1="661.8" y1="649.0" x2="661.8" y2="666.0" stroke="#444" stroke-width="0.7"/>
<line x1="590.4" y1="649.0" x2="590.4" y2="671.0" stroke="#444" stroke-width="0.7"/>
<line x1="388.8" y1="640.0" x2="388.8" y2="1030.0" stroke="#888" stroke-width="0.6" stroke-dasharray="16 5"/>
<line x1="462.0" y1="640.0" x2="462.0" y2="715.0" stroke="#888" stroke-width="0.6" stroke-dasharray="16 5"/>
<line x1="600.0" y1="923.5" x2="797.0" y2="923.5" stroke="#444" stroke-width="0.8"/>
<line x1="600.0" y1="936.4" x2="797.0" y2="936.4" stroke="#444" stroke-width="0.8"/>
<circle cx="600.0" cy="936.4" r="1.6" fill="#222"/>
<line x1="597.5" y1="938.9" x2="602.5" y2="933.9" stroke="#222" stroke-width="0.9"/>
<circle cx="744.8" cy="936.4" r="1.6" fill="#222"/>
<line x1="742.3" y1="938.9" x2="747.3" y2="933.9" stroke="#222" stroke-width="0.9"/>
<circle cx="797.0" cy="936.4" r="1.6" fill="#222"/>
<line x1="794.5" y1="938.9" x2="799.5" y2="933.9" stroke="#222" stroke-width="0.9"/>
<line x1="744.8" y1="735.0" x2="744.8" y2="1066.0" stroke="#444" stroke-width="0.8"/>
<line x1="767.3" y1="816.0" x2="767.3" y2="947.0" stroke="#666" stroke-width="0.7" stroke-dasharray="8 3"/>
<line x1="295.0" y1="643.0" x2="295.0" y2="678.0" stroke="#444" stroke-width="0.8"/>
<circle cx="295.0" cy="654.4" r="1.6" fill="#222"/>
<line x1="292.5" y1="656.9" x2="297.5" y2="651.9" stroke="#222" stroke-width="0.9"/>
<circle cx="295.0" cy="670.0" r="1.6" fill="#222"/>
<line x1="292.5" y1="672.5" x2="297.5" y2="667.5" stroke="#222" stroke-width="0.9"/>
<line x1="293.6" y1="698.0" x2="293.6" y2="726.0" stroke="#444" stroke-width="0.8"/>
<circle cx="293.6" cy="709.0" r="1.6" fill="#222"/>
<line x1="291.1" y1="711.5" x2="296.1" y2="706.5" stroke="#222" stroke-width="0.9"/>
<circle cx="293.6" cy="724.8" r="1.6" fill="#222"/>
<line x1="291.1" y1="727.3" x2="296.1" y2="722.3" stroke="#222" stroke-width="0.9"/>
<line x1="274.0" y1="603.6" x2="301.0" y2="603.6" stroke="#444" stroke-width="0.8"/>
<circle cx="285.6" cy="603.6" r="1.6" fill="#222"/>
<line x1="283.1" y1="606.1" x2="288.1" y2="601.1" stroke="#222" stroke-width="0.9"/>
<circle cx="301.0" cy="603.6" r="1.6" fill="#222"/>
<line x1="298.5" y1="606.1" x2="303.5" y2="601.1" stroke="#222" stroke-width="0.9"/>
<line x1="285.6" y1="603.6" x2="285.6" y2="609.0" stroke="#444" stroke-width="0.8"/>
<rect x="342" y="357" width="173" height="97" fill="url(#terr)"/>
<rect x="484" y="352" width="31" height="5" fill="url(#terr)"/>
<rect x="210.0" y="1026.8" width="31.0" height="11.7" fill="url(#stip)" stroke="none"/>
<rect x="210.0" y="1038.5" width="10.0" height="55.5" fill="url(#stip)" stroke="none"/>
<rect x="220.0" y="1083.6" width="242.0" height="10.4" fill="url(#stip)" stroke="none"/>
<rect x="452.7" y="1038.5" width="9.3" height="55.5" fill="url(#stip)" stroke="none"/>
<rect x="462.0" y="1039.0" width="11.3" height="55.0" fill="url(#stip)" stroke="none"/>
<rect x="473.3" y="1070.5" width="115.7" height="12.5" fill="url(#stip)" stroke="none"/>
<rect x="473.3" y="1083.0" width="94.7" height="11.0" fill="url(#stip)" stroke="none"/>
<polyline points="210.0,1026.8 241.0,1026.8" fill="none" stroke="#555" stroke-width="0.7"/>
<polyline points="210.0,1026.8 210.0,1094.0 568.0,1094.0 568.0,1083.0 589.0,1083.0" fill="none" stroke="#555" stroke-width="0.7"/>
<rect x="220.0" y="1038.8" width="232.7" height="44.8" rx="0" fill="#fff" stroke="#555" stroke-width="0.7"/>
<rect x="473.3" y="1038" width="115" height="32.5" fill="#fff"/>
<line x1="473.3" y1="1070.5" x2="589.0" y2="1070.5" stroke="#555" stroke-width="0.7"/>
<line x1="473.3" y1="1039.0" x2="473.3" y2="1070.5" stroke="#555" stroke-width="0.7"/>
<rect x="301.5" y="452.0" width="12.5" height="31.0" fill="url(#cmuV)" stroke="none"/>
<line x1="304.0" y1="452.0" x2="304.0" y2="483.0" stroke="#333" stroke-width="0.9"/>
<line x1="311.5" y1="452.0" x2="311.5" y2="483.0" stroke="#333" stroke-width="0.9"/>
<rect x="301.5" y="452.0" width="12.5" height="31.0" fill="none" stroke="#111" stroke-width="1.4"/>
<rect x="301.5" y="452.0" width="31.5" height="13.0" fill="url(#cmuH)" stroke="none"/>
<line x1="301.5" y1="454.6" x2="333.0" y2="454.6" stroke="#333" stroke-width="0.9"/>
<line x1="301.5" y1="462.4" x2="333.0" y2="462.4" stroke="#333" stroke-width="0.9"/>
<rect x="301.5" y="452.0" width="31.5" height="13.0" fill="none" stroke="#111" stroke-width="1.4"/>
<rect x="301.5" y="523.0" width="12.5" height="213.5" fill="url(#cmuV)" stroke="none"/>
<line x1="304.0" y1="523.0" x2="304.0" y2="736.5" stroke="#333" stroke-width="0.9"/>
<line x1="311.5" y1="523.0" x2="311.5" y2="736.5" stroke="#333" stroke-width="0.9"/>
<rect x="301.5" y="523.0" width="12.5" height="213.5" fill="none" stroke="#111" stroke-width="1.4"/>
<rect x="331.0" y="351.0" width="11.0" height="20.0" fill="url(#cmuV)" stroke="none"/>
<line x1="333.2" y1="351.0" x2="333.2" y2="371.0" stroke="#333" stroke-width="0.9"/>
<line x1="339.8" y1="351.0" x2="339.8" y2="371.0" stroke="#333" stroke-width="0.9"/>
<rect x="331.0" y="351.0" width="11.0" height="20.0" fill="none" stroke="#111" stroke-width="1.4"/>
<rect x="513.0" y="446.0" width="13.0" height="19.0" fill="url(#cmuV)" stroke="none"/>
<line x1="515.6" y1="446.0" x2="515.6" y2="465.0" stroke="#333" stroke-width="0.9"/>
<line x1="523.4" y1="446.0" x2="523.4" y2="465.0" stroke="#333" stroke-width="0.9"/>
<rect x="513.0" y="446.0" width="13.0" height="19.0" fill="none" stroke="#111" stroke-width="1.4"/>
<rect x="722.6" y="351.0" width="13.4" height="114.5" fill="url(#cmuV)" stroke="none"/>
<line x1="725.3" y1="351.0" x2="725.3" y2="465.5" stroke="#333" stroke-width="0.9"/>
<line x1="733.3" y1="351.0" x2="733.3" y2="465.5" stroke="#333" stroke-width="0.9"/>
<rect x="722.6" y="351.0" width="13.4" height="114.5" fill="none" stroke="#111" stroke-width="1.4"/>
<rect x="722.6" y="451.0" width="44.0" height="14.5" fill="url(#cmuH)" stroke="none"/>
<line x1="722.6" y1="453.9" x2="766.6" y2="453.9" stroke="#333" stroke-width="0.9"/>
<line x1="722.6" y1="462.6" x2="766.6" y2="462.6" stroke="#333" stroke-width="0.9"/>
<rect x="722.6" y="451.0" width="44.0" height="14.5" fill="none" stroke="#111" stroke-width="1.4"/>
<rect x="754.0" y="451.0" width="12.6" height="284.4" fill="url(#cmuV)" stroke="none"/>
<line x1="756.5" y1="451.0" x2="756.5" y2="735.4" stroke="#333" stroke-width="0.9"/>
<line x1="764.1" y1="451.0" x2="764.1" y2="735.4" stroke="#333" stroke-width="0.9"/>
<rect x="754.0" y="451.0" width="12.6" height="284.4" fill="none" stroke="#111" stroke-width="1.4"/>
<rect x="715.6" y="724.0" width="91.4" height="11.4" fill="url(#cmuH)" stroke="none"/>
<line x1="715.6" y1="726.3" x2="807.0" y2="726.3" stroke="#333" stroke-width="0.9"/>
<line x1="715.6" y1="733.1" x2="807.0" y2="733.1" stroke="#333" stroke-width="0.9"/>
<rect x="715.6" y="724.0" width="91.4" height="11.4" fill="none" stroke="#111" stroke-width="1.4"/>
<rect x="796.5" y="724.0" width="10.5" height="41.0" fill="url(#cmuV)" stroke="none"/>
<line x1="798.6" y1="724.0" x2="798.6" y2="765.0" stroke="#333" stroke-width="0.9"/>
<line x1="804.9" y1="724.0" x2="804.9" y2="765.0" stroke="#333" stroke-width="0.9"/>
<rect x="796.5" y="724.0" width="10.5" height="41.0" fill="none" stroke="#111" stroke-width="1.4"/>
<rect x="796.5" y="816.0" width="10.9" height="142.0" fill="url(#cmuV)" stroke="none"/>
<line x1="798.7" y1="816.0" x2="798.7" y2="958.0" stroke="#333" stroke-width="0.9"/>
<line x1="805.2" y1="816.0" x2="805.2" y2="958.0" stroke="#333" stroke-width="0.9"/>
<rect x="796.5" y="816.0" width="10.9" height="142.0" fill="none" stroke="#111" stroke-width="1.4"/>
<rect x="766.8" y="947.0" width="40.6" height="11.0" fill="url(#cmuH)" stroke="none"/>
<line x1="766.8" y1="949.2" x2="807.4" y2="949.2" stroke="#333" stroke-width="0.9"/>
<line x1="766.8" y1="955.8" x2="807.4" y2="955.8" stroke="#333" stroke-width="0.9"/>
<rect x="766.8" y="947.0" width="40.6" height="11.0" fill="none" stroke="#111" stroke-width="1.4"/>
<rect x="766.8" y="947.0" width="10.5" height="132.0" fill="url(#cmuV)" stroke="none"/>
<line x1="768.9" y1="947.0" x2="768.9" y2="1079.0" stroke="#333" stroke-width="0.9"/>
<line x1="775.2" y1="947.0" x2="775.2" y2="1079.0" stroke="#333" stroke-width="0.9"/>
<rect x="766.8" y="947.0" width="10.5" height="132.0" fill="none" stroke="#111" stroke-width="1.4"/>
<rect x="751.0" y="1067.6" width="26.3" height="11.4" fill="url(#cmuH)" stroke="none"/>
<line x1="751.0" y1="1069.9" x2="777.3" y2="1069.9" stroke="#333" stroke-width="0.9"/>
<line x1="751.0" y1="1076.7" x2="777.3" y2="1076.7" stroke="#333" stroke-width="0.9"/>
<rect x="751.0" y="1067.6" width="26.3" height="11.4" fill="none" stroke="#111" stroke-width="1.4"/>
<rect x="587.7" y="723.0" width="12.3" height="355.4" fill="url(#cmuV)" stroke="none"/>
<line x1="590.2" y1="723.0" x2="590.2" y2="1078.4" stroke="#333" stroke-width="0.9"/>
<line x1="597.5" y1="723.0" x2="597.5" y2="1078.4" stroke="#333" stroke-width="0.9"/>
<rect x="587.7" y="723.0" width="12.3" height="355.4" fill="none" stroke="#111" stroke-width="1.4"/>
<rect x="587.0" y="723.0" width="79.0" height="12.0" fill="url(#cmuH)" stroke="none"/>
<line x1="587.0" y1="725.4" x2="666.0" y2="725.4" stroke="#333" stroke-width="0.9"/>
<line x1="587.0" y1="732.6" x2="666.0" y2="732.6" stroke="#333" stroke-width="0.9"/>
<rect x="587.0" y="723.0" width="79.0" height="12.0" fill="none" stroke="#111" stroke-width="1.4"/>
<rect x="600.0" y="1067.6" width="14.0" height="10.8" fill="url(#cmuH)" stroke="none"/>
<line x1="600.0" y1="1069.8" x2="614.0" y2="1069.8" stroke="#333" stroke-width="0.9"/>
<line x1="600.0" y1="1076.2" x2="614.0" y2="1076.2" stroke="#333" stroke-width="0.9"/>
<rect x="600.0" y="1067.6" width="14.0" height="10.8" fill="none" stroke="#111" stroke-width="1.4"/>
<rect x="579.0" y="945.5" width="9.0" height="12.5" fill="url(#cmuV)" stroke="none"/>
<line x1="580.8" y1="945.5" x2="580.8" y2="958.0" stroke="#333" stroke-width="0.9"/>
<line x1="586.2" y1="945.5" x2="586.2" y2="958.0" stroke="#333" stroke-width="0.9"/>
<rect x="579.0" y="945.5" width="9.0" height="12.5" fill="none" stroke="#111" stroke-width="1.4"/>
<rect x="468.5" y="945.5" width="15.5" height="12.5" fill="url(#cmuH)" stroke="none"/>
<line x1="468.5" y1="948.0" x2="484.0" y2="948.0" stroke="#333" stroke-width="0.9"/>
<line x1="468.5" y1="955.5" x2="484.0" y2="955.5" stroke="#333" stroke-width="0.9"/>
<rect x="468.5" y="945.5" width="15.5" height="12.5" fill="none" stroke="#111" stroke-width="1.4"/>
<rect x="461.4" y="950.0" width="11.9" height="89.0" fill="url(#cmuV)" stroke="none"/>
<line x1="463.8" y1="950.0" x2="463.8" y2="1039.0" stroke="#333" stroke-width="0.9"/>
<line x1="470.9" y1="950.0" x2="470.9" y2="1039.0" stroke="#333" stroke-width="0.9"/>
<rect x="461.4" y="950.0" width="11.9" height="89.0" fill="none" stroke="#111" stroke-width="1.4"/>
<rect x="241.0" y="1026.8" width="75.4" height="11.2" fill="url(#cmuH)" stroke="none"/>
<line x1="241.0" y1="1029.0" x2="316.4" y2="1029.0" stroke="#333" stroke-width="0.9"/>
<line x1="241.0" y1="1035.8" x2="316.4" y2="1035.8" stroke="#333" stroke-width="0.9"/>
<rect x="241.0" y="1026.8" width="75.4" height="11.2" fill="none" stroke="#111" stroke-width="1.4"/>
<rect x="397.3" y="1026.8" width="75.3" height="11.2" fill="url(#cmuH)" stroke="none"/>
<line x1="397.3" y1="1029.0" x2="472.6" y2="1029.0" stroke="#333" stroke-width="0.9"/>
<line x1="397.3" y1="1035.8" x2="472.6" y2="1035.8" stroke="#333" stroke-width="0.9"/>
<rect x="397.3" y="1026.8" width="75.3" height="11.2" fill="none" stroke="#111" stroke-width="1.4"/>
<rect x="241.0" y="724.8" width="12.0" height="49.7" fill="url(#cmuV)" stroke="none"/>
<line x1="243.4" y1="724.8" x2="243.4" y2="774.5" stroke="#333" stroke-width="0.9"/>
<line x1="250.6" y1="724.8" x2="250.6" y2="774.5" stroke="#333" stroke-width="0.9"/>
<rect x="241.0" y="724.8" width="12.0" height="49.7" fill="none" stroke="#111" stroke-width="1.4"/>
<rect x="241.0" y="814.0" width="12.0" height="61.0" fill="url(#cmuV)" stroke="none"/>
<line x1="243.4" y1="814.0" x2="243.4" y2="875.0" stroke="#333" stroke-width="0.9"/>
<line x1="250.6" y1="814.0" x2="250.6" y2="875.0" stroke="#333" stroke-width="0.9"/>
<rect x="241.0" y="814.0" width="12.0" height="61.0" fill="none" stroke="#111" stroke-width="1.4"/>
<rect x="241.0" y="916.6" width="12.0" height="120.4" fill="url(#cmuV)" stroke="none"/>
<line x1="243.4" y1="916.6" x2="243.4" y2="1037.0" stroke="#333" stroke-width="0.9"/>
<line x1="250.6" y1="916.6" x2="250.6" y2="1037.0" stroke="#333" stroke-width="0.9"/>
<rect x="241.0" y="916.6" width="12.0" height="120.4" fill="none" stroke="#111" stroke-width="1.4"/>
<rect x="241.0" y="724.8" width="72.5" height="11.7" fill="url(#cmuH)" stroke="none"/>
<line x1="241.0" y1="727.1" x2="313.5" y2="727.1" stroke="#333" stroke-width="0.9"/>
<line x1="241.0" y1="734.2" x2="313.5" y2="734.2" stroke="#333" stroke-width="0.9"/>
<rect x="241.0" y="724.8" width="72.5" height="11.7" fill="none" stroke="#111" stroke-width="1.4"/>
<rect x="456.0" y="1033.0" width="17.0" height="6.0" fill="url(#cmuH)" stroke="none"/>
<line x1="456.0" y1="1034.2" x2="473.0" y2="1034.2" stroke="#333" stroke-width="0.9"/>
<line x1="456.0" y1="1037.8" x2="473.0" y2="1037.8" stroke="#333" stroke-width="0.9"/>
<rect x="456.0" y="1033.0" width="17.0" height="6.0" fill="none" stroke="#111" stroke-width="1.4"/>
<rect x="302.5" y="483.0" width="10.5" height="40.0" rx="0" fill="#fff" stroke="#333" stroke-width="0.9"/>
<line x1="306.6" y1="483.0" x2="306.6" y2="523.0" stroke="#555" stroke-width="0.6"/>
<line x1="308.9" y1="483.0" x2="308.9" y2="523.0" stroke="#555" stroke-width="0.6"/>
<rect x="242.0" y="774.5" width="10.0" height="39.5" rx="0" fill="#fff" stroke="#333" stroke-width="0.9"/>
<line x1="245.8" y1="774.5" x2="245.8" y2="814.0" stroke="#555" stroke-width="0.6"/>
<line x1="248.2" y1="774.5" x2="248.2" y2="814.0" stroke="#555" stroke-width="0.6"/>
<rect x="242.0" y="875.0" width="10.0" height="41.6" rx="0" fill="#fff" stroke="#333" stroke-width="0.9"/>
<line x1="245.8" y1="875.0" x2="245.8" y2="916.6" stroke="#555" stroke-width="0.6"/>
<line x1="248.2" y1="875.0" x2="248.2" y2="916.6" stroke="#555" stroke-width="0.6"/>
<rect x="316.4" y="1028.0" width="80.9" height="9.0" rx="0" fill="#fff" stroke="#333" stroke-width="0.9"/>
<line x1="316.4" y1="1031.3" x2="397.3" y2="1031.3" stroke="#555" stroke-width="0.6"/>
<line x1="316.4" y1="1033.7" x2="397.3" y2="1033.7" stroke="#555" stroke-width="0.6"/>
<rect x="354.0" y="1030.0" width="6.0" height="5.0" rx="0" fill="none" stroke="#555" stroke-width="0.6"/>
<line x1="614.0" y1="1068.0" x2="751.0" y2="1068.0" stroke="#444" stroke-width="0.8"/>
<line x1="614.0" y1="1076.0" x2="751.0" y2="1076.0" stroke="#444" stroke-width="0.8"/>
<rect x="313.5" y="731.5" width="96.5" height="6.5" fill="url(#diag)" stroke="#222" stroke-width="0.9"/>
<rect x="403.0" y="713.0" width="65.0" height="7.5" fill="url(#diag)" stroke="#222" stroke-width="0.9"/>
<rect x="403.0" y="713.0" width="7.7" height="70.0" fill="url(#diag)" stroke="#222" stroke-width="0.9"/>
<rect x="461.0" y="713.0" width="7.0" height="65.8" fill="url(#diag)" stroke="#222" stroke-width="0.9"/>
<rect x="461.0" y="827.0" width="7.0" height="118.0" fill="url(#diag)" stroke="#222" stroke-width="0.9"/>
<rect x="253.0" y="831.5" width="158.5" height="6.1" fill="url(#diag)" stroke="#222" stroke-width="0.9"/>
<rect x="404.4" y="831.0" width="7.1" height="43.0" fill="url(#diag)" stroke="#222" stroke-width="0.9"/>
<rect x="391.6" y="867.7" width="19.9" height="6.3" fill="url(#diag)" stroke="#222" stroke-width="0.9"/>
<rect x="253.0" y="867.7" width="18.0" height="6.3" fill="url(#diag)" stroke="#222" stroke-width="0.9"/>
<rect x="587.0" y="670.7" width="79.0" height="5.7" fill="url(#diag)" stroke="#222" stroke-width="0.9"/>
<rect x="587.0" y="670.7" width="6.4" height="54.3" fill="url(#diag)" stroke="#222" stroke-width="0.9"/>
<rect x="719.0" y="670.0" width="35.0" height="7.0" fill="url(#diag)" stroke="#222" stroke-width="0.9"/>
<rect x="461.5" y="894" width="6" height="14" fill="#fff"/>
<line x1="526.0" y1="362.5" x2="576.0" y2="362.5" stroke="#444" stroke-width="0.9"/>
<line x1="576.0" y1="362.5" x2="722.0" y2="366.0" stroke="#444" stroke-width="0.9"/>
<line x1="526.0" y1="364.5" x2="576.0" y2="364.5" stroke="#666" stroke-width="0.6"/>
<rect x="574.5" y="361.0" width="3.0" height="3.0" rx="0" fill="#fff" stroke="#333" stroke-width="0.7"/>
<rect x="622.5" y="362.3" width="3.0" height="3.0" rx="0" fill="#fff" stroke="#333" stroke-width="0.7"/>
<rect x="671.5" y="363.3" width="3.0" height="3.0" rx="0" fill="#fff" stroke="#333" stroke-width="0.7"/>
<rect x="513.8" y="360.2" width="13.5" height="8.3" rx="0" fill="#fff" stroke="#444" stroke-width="0.8"/>
<line x1="333.0" y1="457.0" x2="513.0" y2="457.0" stroke="#444" stroke-width="0.9"/>
<line x1="333.0" y1="459.0" x2="513.0" y2="459.0" stroke="#666" stroke-width="0.6"/>
<rect x="377.7" y="455.2" width="2.6" height="3.0" rx="0" fill="#fff" stroke="#333" stroke-width="0.7"/>
<rect x="421.2" y="455.2" width="2.6" height="3.0" rx="0" fill="#fff" stroke="#333" stroke-width="0.7"/>
<rect x="465.7" y="455.2" width="2.6" height="3.0" rx="0" fill="#fff" stroke="#333" stroke-width="0.7"/>
<line x1="271.0" y1="872.5" x2="391.0" y2="872.5" stroke="#777" stroke-width="0.6"/>
<line x1="271.0" y1="874.5" x2="391.0" y2="874.5" stroke="#777" stroke-width="0.6"/>
<rect x="433.5" y="98.0" width="292.5" height="141.5" rx="0" fill="none" stroke="#333" stroke-width="1.2"/>
<rect x="442.6" y="108.0" width="273.1" height="121.0" rx="9" fill="none" stroke="#555" stroke-width="0.9"/>
<line x1="558.5" y1="239.5" x2="558.5" y2="250.0" stroke="#333" stroke-width="0.8"/>
<line x1="653.7" y1="239.5" x2="653.7" y2="250.0" stroke="#333" stroke-width="0.8"/>
<path d="M359.0,48.0 A5.1,5.1 0 0 1 350.1,48.0 A5.1,5.1 0 0 1 341.2,48.0 A5.1,5.1 0 0 1 332.3,48.0 A5.1,5.1 0 0 1 323.3,48.0 A5.1,5.1 0 0 1 314.4,48.0 A5.1,5.1 0 0 1 305.5,48.0 A5.1,5.1 0 0 1 296.6,48.0 A5.1,5.1 0 0 1 287.7,48.0 A5.1,5.1 0 0 1 278.8,48.0 A5.1,5.1 0 0 1 269.9,48.0 A5.1,5.1 0 0 1 261.0,48.0 A5.1,5.1 0 0 1 252.0,48.0 A5.1,5.1 0 0 1 243.1,48.0 A5.1,5.1 0 0 1 234.2,48.0 A5.1,5.1 0 0 1 225.3,48.0 A5.1,5.1 0 0 1 216.4,48.0 A5.1,5.1 0 0 1 207.5,48.0 A5.1,5.1 0 0 1 198.6,48.0 A5.1,5.1 0 0 1 189.7,48.0 A5.1,5.1 0 0 1 180.7,48.0 A5.1,5.1 0 0 1 171.8,48.0 A5.1,5.1 0 0 1 162.9,48.0 A5.1,5.1 0 0 1 154.0,48.0" fill="none" stroke="#8a8a8a" stroke-width="0.7"/>
<path d="M154.0,48.0 A5.1,5.1 0 0 1 154.0,56.8 A5.1,5.1 0 0 1 154.0,65.6 A5.1,5.1 0 0 1 154.0,74.4 A5.1,5.1 0 0 1 154.0,83.2 A5.1,5.1 0 0 1 154.0,92.0" fill="none" stroke="#bbb" stroke-width="0.7"/>
<path d="M154.0,236.0 A5.8,5.8 0 0 1 154.0,246.0 A5.8,5.8 0 0 1 154.0,256.0" fill="none" stroke="#bbb" stroke-width="0.7"/>
<path d="M154.0,256.0 A5.1,5.1 0 0 1 162.9,256.0 A5.1,5.1 0 0 1 171.8,256.0 A5.1,5.1 0 0 1 180.7,256.0 A5.1,5.1 0 0 1 189.7,256.0 A5.1,5.1 0 0 1 198.6,256.0 A5.1,5.1 0 0 1 207.5,256.0 A5.1,5.1 0 0 1 216.4,256.0 A5.1,5.1 0 0 1 225.3,256.0 A5.1,5.1 0 0 1 234.2,256.0 A5.1,5.1 0 0 1 243.1,256.0 A5.1,5.1 0 0 1 252.0,256.0 A5.1,5.1 0 0 1 261.0,256.0 A5.1,5.1 0 0 1 269.9,256.0 A5.1,5.1 0 0 1 278.8,256.0 A5.1,5.1 0 0 1 287.7,256.0 A5.1,5.1 0 0 1 296.6,256.0 A5.1,5.1 0 0 1 305.5,256.0 A5.1,5.1 0 0 1 314.4,256.0 A5.1,5.1 0 0 1 323.3,256.0 A5.1,5.1 0 0 1 332.3,256.0 A5.1,5.1 0 0 1 341.2,256.0 A5.1,5.1 0 0 1 350.1,256.0 A5.1,5.1 0 0 1 359.0,256.0" fill="none" stroke="#8a8a8a" stroke-width="0.7"/>
<path d="M359.0,224.0 A5.1,5.1 0 0 1 359.0,215.2 A5.1,5.1 0 0 1 359.0,206.4 A5.1,5.1 0 0 1 359.0,197.6 A5.1,5.1 0 0 1 359.0,188.8 A5.1,5.1 0 0 1 359.0,180.0 A5.1,5.1 0 0 1 359.0,171.2 A5.1,5.1 0 0 1 359.0,162.4 A5.1,5.1 0 0 1 359.0,153.6 A5.1,5.1 0 0 1 359.0,144.8 A5.1,5.1 0 0 1 359.0,136.0 A5.1,5.1 0 0 1 359.0,127.2 A5.1,5.1 0 0 1 359.0,118.4 A5.1,5.1 0 0 1 359.0,109.6 A5.1,5.1 0 0 1 359.0,100.8 A5.1,5.1 0 0 1 359.0,92.0 A5.1,5.1 0 0 1 359.0,83.2 A5.1,5.1 0 0 1 359.0,74.4 A5.1,5.1 0 0 1 359.0,65.6 A5.1,5.1 0 0 1 359.0,56.8 A5.1,5.1 0 0 1 359.0,48.0" fill="none" stroke="#8a8a8a" stroke-width="0.7"/>
<path d="M359.0,224.0 A4.7,4.7 0 0 1 367.2,224.0 A4.7,4.7 0 0 1 375.4,224.0 A4.7,4.7 0 0 1 383.6,224.0 A4.7,4.7 0 0 1 391.8,224.0 A4.7,4.7 0 0 1 400.0,224.0 A5.1,5.1 0 0 1 408.0,228.0 A5.1,5.1 0 0 1 416.0,232.0 A5.1,5.1 0 0 1 424.0,236.0 A5.0,5.0 0 0 1 424.7,244.7 A5.0,5.0 0 0 1 425.3,253.3 A5.0,5.0 0 0 1 426.0,262.0 A4.9,4.9 0 0 1 420.7,268.7 A4.9,4.9 0 0 1 415.3,275.3 A4.9,4.9 0 0 1 410.0,282.0 A5.8,5.8 0 0 1 400.0,282.0 A5.8,5.8 0 0 1 390.0,282.0 A5.8,5.8 0 0 1 380.0,282.0 A6.2,6.2 0 0 1 371.0,276.0 A6.2,6.2 0 0 1 362.0,270.0 A4.1,4.1 0 0 1 360.5,263.0 A4.1,4.1 0 0 1 359.0,256.0" fill="none" stroke="#8a8a8a" stroke-width="0.7"/>
<line x1="221.0" y1="61.0" x2="352.0" y2="61.0" stroke="#444" stroke-width="0.8"/>
<line x1="221.0" y1="73.0" x2="352.0" y2="73.0" stroke="#444" stroke-width="0.8"/>
<circle cx="223.0" cy="61.0" r="1.6" fill="#222"/>
<line x1="220.5" y1="63.5" x2="225.5" y2="58.5" stroke="#222" stroke-width="0.9"/>
<circle cx="349.0" cy="61.0" r="1.6" fill="#222"/>
<line x1="346.5" y1="63.5" x2="351.5" y2="58.5" stroke="#222" stroke-width="0.9"/>
<circle cx="223.0" cy="73.0" r="1.6" fill="#222"/>
<line x1="220.5" y1="75.5" x2="225.5" y2="70.5" stroke="#222" stroke-width="0.9"/>
<circle cx="258.0" cy="73.0" r="1.6" fill="#222"/>
<line x1="255.5" y1="75.5" x2="260.5" y2="70.5" stroke="#222" stroke-width="0.9"/>
<circle cx="340.0" cy="73.0" r="1.6" fill="#222"/>
<line x1="337.5" y1="75.5" x2="342.5" y2="70.5" stroke="#222" stroke-width="0.9"/>
<circle cx="349.0" cy="73.0" r="1.6" fill="#222"/>
<line x1="346.5" y1="75.5" x2="351.5" y2="70.5" stroke="#222" stroke-width="0.9"/>
<line x1="223.0" y1="56.0" x2="223.0" y2="95.0" stroke="#444" stroke-width="0.8"/>
<line x1="258.0" y1="70.0" x2="258.0" y2="95.0" stroke="#444" stroke-width="0.8"/>
<line x1="340.0" y1="70.0" x2="340.0" y2="84.0" stroke="#444" stroke-width="0.7"/>
<line x1="349.0" y1="56.0" x2="349.0" y2="95.0" stroke="#444" stroke-width="0.8"/>
<line x1="171.5" y1="91.0" x2="171.5" y2="244.0" stroke="#444" stroke-width="0.8"/>
<circle cx="171.5" cy="91.0" r="1.6" fill="#222"/>
<line x1="169.0" y1="93.5" x2="174.0" y2="88.5" stroke="#222" stroke-width="0.9"/>
<circle cx="171.5" cy="244.0" r="1.6" fill="#222"/>
<line x1="169.0" y1="246.5" x2="174.0" y2="241.5" stroke="#222" stroke-width="0.9"/>
<line x1="171.5" y1="91.0" x2="248.7" y2="91.0" stroke="#444" stroke-width="0.8"/>
<line x1="171.5" y1="244.0" x2="223.0" y2="244.0" stroke="#444" stroke-width="0.8"/>
<line x1="248.7" y1="10.0" x2="248.7" y2="91.0" stroke="#555" stroke-width="0.8"/>
<line x1="248.7" y1="244.0" x2="248.7" y2="289.7" stroke="#444" stroke-width="0.8"/>
<line x1="248.7" y1="289.7" x2="302.0" y2="289.7" stroke="#444" stroke-width="0.8" stroke-dasharray="12 3"/>
<line x1="302.0" y1="289.7" x2="302.0" y2="330.0" stroke="#444" stroke-width="0.8"/>
<line x1="221.5" y1="244.0" x2="221.5" y2="328.0" stroke="#444" stroke-width="0.8"/>
<line x1="223.0" y1="95.0" x2="223.0" y2="241.0" stroke="#444" stroke-width="0.8"/>
<rect x="224.0" y="97.5" width="121.0" height="141.5" rx="0" fill="none" stroke="#999" stroke-width="0.8" stroke-dasharray="1 1.6"/>
<rect x="226.0" y="99.5" width="115.0" height="137.5" rx="0" fill="none" stroke="#bbb" stroke-width="0.7" stroke-dasharray="1 1.6"/>
<line x1="343.0" y1="99.0" x2="343.0" y2="238.0" stroke="#aaa" stroke-width="0.7" stroke-dasharray="1 1.6"/>
<rect x="221.4" y="92.4" width="3.2" height="5.2" rx="0" fill="#333" stroke="#111" stroke-width="1.0"/>
<rect x="256.4" y="92.4" width="3.2" height="5.2" rx="0" fill="#333" stroke="#111" stroke-width="1.0"/>
<rect x="221.4" y="238.4" width="3.2" height="5.2" rx="0" fill="#333" stroke="#111" stroke-width="1.0"/>
<rect x="256.4" y="238.4" width="3.2" height="5.2" rx="0" fill="#333" stroke="#111" stroke-width="1.0"/>
<rect x="342.6" y="92.6" width="4.8" height="4.8" rx="0" fill="#fff" stroke="#111" stroke-width="1.3"/>
<rect x="342.6" y="238.6" width="4.8" height="4.8" rx="0" fill="#fff" stroke="#111" stroke-width="1.3"/>
<rect x="224.5" y="102.0" width="33.5" height="131.0" rx="0" fill="none" stroke="#444" stroke-width="0.8"/>
<rect x="226.0" y="103.5" width="30.5" height="128.0" rx="0" fill="none" stroke="#999" stroke-width="0.5"/>
<rect x="227.5" y="105.5" width="29.5" height="30.0" rx="0" fill="none" stroke="#666" stroke-width="1.0" stroke-dasharray="4 2"/>
<rect x="232.0" y="158.0" width="22.0" height="21.0" rx="0" fill="none" stroke="#444" stroke-width="0.9"/>
<line x1="229.0" y1="168.0" x2="236.0" y2="168.0" stroke="#555" stroke-width="1.4"/>
<line x1="226.0" y1="188.0" x2="257.0" y2="188.0" stroke="#555" stroke-width="0.7"/>
<line x1="241.5" y1="188.0" x2="241.5" y2="231.0" stroke="#555" stroke-width="0.7"/>
<rect x="178.0" y="97.0" width="33.0" height="15.5" rx="0" fill="none" stroke="#444" stroke-width="0.9"/>
<circle cx="204.0" cy="126.5" r="8" fill="none" stroke="#888" stroke-width="0.8"/>
<circle cx="204.0" cy="148.0" r="8" fill="none" stroke="#888" stroke-width="0.8"/>
<polyline points="349.0,92.0 392.0,34.0 421.0,31.0" fill="none" stroke="#555" stroke-width="0.7"/>
<line x1="349.0" y1="92.0" x2="349.8" y2="87.6" stroke="#111" stroke-width="1.4" stroke-linecap="round"/>
<line x1="349.0" y1="92.0" x2="353.2" y2="90.5" stroke="#111" stroke-width="1.4" stroke-linecap="round"/>
<polyline points="323.5,213.0 326.0,290.0 336.0,290.0" fill="none" stroke="#777" stroke-width="0.6"/>
<line x1="323.5" y1="213.0" x2="325.6" y2="217.0" stroke="#111" stroke-width="1.4" stroke-linecap="round"/>
<line x1="323.5" y1="213.0" x2="321.1" y2="216.8" stroke="#111" stroke-width="1.4" stroke-linecap="round"/>
<circle cx="245.5" cy="286.5" r="15.3" fill="#fff" stroke="#222" stroke-width="1.0"/>
<text x="245.5" y="293.0" font-size="18" text-anchor="middle" fill="#222">1</text>
<line x1="245.5" y1="302.0" x2="245.5" y2="318.0" stroke="#444" stroke-width="0.8"/>
<circle cx="306.0" cy="286.5" r="15.3" fill="#fff" stroke="#222" stroke-width="1.0"/>
<text x="306.0" y="293.0" font-size="18" text-anchor="middle" fill="#222">2</text>
<line x1="306.0" y1="302.0" x2="306.0" y2="318.0" stroke="#444" stroke-width="0.8"/>
<circle cx="468.0" cy="286.5" r="15.3" fill="#fff" stroke="#222" stroke-width="1.0"/>
<text x="468.0" y="293.0" font-size="18" text-anchor="middle" fill="#222">3</text>
<line x1="468.0" y1="302.0" x2="468.0" y2="318.0" stroke="#444" stroke-width="0.8"/>
<circle cx="518.7" cy="286.5" r="15.3" fill="#fff" stroke="#222" stroke-width="1.0"/>
<text x="518.7" y="293.0" font-size="18" text-anchor="middle" fill="#222">4</text>
<line x1="518.7" y1="302.0" x2="518.7" y2="318.0" stroke="#444" stroke-width="0.8"/>
<circle cx="594.6" cy="286.5" r="15.3" fill="#fff" stroke="#222" stroke-width="1.0"/>
<text x="594.6" y="293.0" font-size="18" text-anchor="middle" fill="#222">5</text>
<line x1="594.6" y1="302.0" x2="594.6" y2="318.0" stroke="#444" stroke-width="0.8"/>
<circle cx="731.0" cy="286.5" r="15.3" fill="#fff" stroke="#222" stroke-width="1.0"/>
<text x="731.0" y="293.0" font-size="18" text-anchor="middle" fill="#222">6</text>
<line x1="731.0" y1="302.0" x2="731.0" y2="318.0" stroke="#444" stroke-width="0.8"/>
<circle cx="761.7" cy="286.5" r="15.3" fill="#fff" stroke="#222" stroke-width="1.0"/>
<text x="761.7" y="293.0" font-size="18" text-anchor="middle" fill="#222">7</text>
<line x1="761.7" y1="302.0" x2="761.7" y2="318.0" stroke="#444" stroke-width="0.8"/>
<circle cx="802.0" cy="286.5" r="15.3" fill="#fff" stroke="#222" stroke-width="1.0"/>
<text x="802.0" y="293.0" font-size="18" text-anchor="middle" fill="#222">8</text>
<line x1="802.0" y1="302.0" x2="802.0" y2="318.0" stroke="#444" stroke-width="0.8"/>
<circle cx="925.3" cy="355.8" r="15.3" fill="#fff" stroke="#222" stroke-width="1.0"/>
<text x="925.3" y="362.3" font-size="18" text-anchor="middle" fill="#222">F</text>
<circle cx="925.3" cy="457.0" r="15.3" fill="#fff" stroke="#222" stroke-width="1.0"/>
<text x="925.3" y="463.5" font-size="18" text-anchor="middle" fill="#222">E</text>
<circle cx="925.3" cy="730.0" r="15.3" fill="#fff" stroke="#222" stroke-width="1.0"/>
<text x="925.3" y="736.5" font-size="18" text-anchor="middle" fill="#222">D</text>
<circle cx="925.3" cy="952.6" r="15.3" fill="#fff" stroke="#222" stroke-width="1.0"/>
<text x="925.3" y="959.1" font-size="18" text-anchor="middle" fill="#222">C</text>
<circle cx="925.3" cy="1033.0" r="15.3" fill="#fff" stroke="#222" stroke-width="1.0"/>
<text x="925.3" y="1039.5" font-size="18" text-anchor="middle" fill="#222">B</text>
<circle cx="925.3" cy="1073.5" r="15.3" fill="#fff" stroke="#222" stroke-width="1.0"/>
<text x="925.3" y="1080.0" font-size="18" text-anchor="middle" fill="#222">A</text>
<line x1="248.7" y1="270.0" x2="248.7" y2="289.7" stroke="#444" stroke-width="0.8"/>
<line x1="248.7" y1="289.7" x2="260.0" y2="289.7" stroke="#444" stroke-width="0.8"/>
<line x1="302.0" y1="289.7" x2="302.0" y2="302.0" stroke="#444" stroke-width="0.8"/>
<polyline points="292.0,289.7 302.0,289.7 302.0,301.0" fill="none" stroke="#444" stroke-width="0.8"/>
<polyline points="787.0,286.5 765.0,286.5 765.0,302.0" fill="none" stroke="#444" stroke-width="0.8"/>
<line x1="795.0" y1="272.0" x2="795.0" y2="286.0" stroke="#666" stroke-width="0.7"/>
<polygon points="370.0,254.0 390.0,234.7 390.0,273.3" fill="#111" stroke="#111" stroke-width="0.5"/>
<circle cx="390.0" cy="254.0" r="14.5" fill="#fff" stroke="#111" stroke-width="1.0"/>
<line x1="375.5" y1="254.0" x2="404.5" y2="254.0" stroke="#111" stroke-width="0.8"/>
<text x="390.0" y="251.5" font-size="8" text-anchor="middle" fill="#333">D</text>
<text x="390.0" y="263.0" font-size="8.5" text-anchor="middle" fill="#333">A-302</text>
<line x1="390.0" y1="268.0" x2="390.0" y2="290.0" stroke="#333" stroke-width="0.8"/>
<polygon points="538.5,258.6 558.5,239.3 558.5,277.9" fill="#111" stroke="#111" stroke-width="0.5"/>
<circle cx="558.5" cy="258.6" r="14.5" fill="#fff" stroke="#111" stroke-width="1.0"/>
<line x1="544.0" y1="258.6" x2="573.0" y2="258.6" stroke="#111" stroke-width="0.8"/>
<text x="558.5" y="256.1" font-size="8" text-anchor="middle" fill="#333">B</text>
<text x="558.5" y="267.6" font-size="8.5" text-anchor="middle" fill="#333">A-301</text>
<polygon points="633.7,258.6 653.7,239.3 653.7,277.9" fill="#111" stroke="#111" stroke-width="0.5"/>
<circle cx="653.7" cy="258.6" r="14.5" fill="#fff" stroke="#111" stroke-width="1.0"/>
<line x1="639.2" y1="258.6" x2="668.2" y2="258.6" stroke="#111" stroke-width="0.8"/>
<text x="653.7" y="256.1" font-size="8" text-anchor="middle" fill="#333">5</text>
<text x="653.7" y="267.6" font-size="8.5" text-anchor="middle" fill="#333">A-312</text>
<polygon points="105.0,770.0 85.7,790.0 124.3,790.0" fill="#111" stroke="#111" stroke-width="0.5"/>
<circle cx="105.0" cy="790.0" r="14.5" fill="#fff" stroke="#111" stroke-width="1.0"/>
<line x1="90.5" y1="790.0" x2="119.5" y2="790.0" stroke="#111" stroke-width="0.8"/>
<text x="105.0" y="787.5" font-size="8" text-anchor="middle" fill="#333">C</text>
<text x="105.0" y="799.0" font-size="8.5" text-anchor="middle" fill="#333">A-302</text>
<polygon points="159.3,810.0 140.0,790.0 178.6,790.0" fill="#111" stroke="#111" stroke-width="0.5"/>
<circle cx="159.3" cy="790.0" r="14.5" fill="#fff" stroke="#111" stroke-width="1.0"/>
<line x1="144.8" y1="790.0" x2="173.8" y2="790.0" stroke="#111" stroke-width="0.8"/>
<text x="159.3" y="787.5" font-size="8" text-anchor="middle" fill="#333">3</text>
<text x="159.3" y="799.0" font-size="8.5" text-anchor="middle" fill="#333">A-311</text>
<polygon points="896.8,772.0 877.5,792.0 916.1,792.0" fill="#111" stroke="#111" stroke-width="0.5"/>
<circle cx="896.8" cy="792.0" r="14.5" fill="#fff" stroke="#111" stroke-width="1.0"/>
<line x1="882.3" y1="792.0" x2="911.3" y2="792.0" stroke="#111" stroke-width="0.8"/>
<text x="896.8" y="789.5" font-size="8" text-anchor="middle" fill="#333">2</text>
<text x="896.8" y="801.0" font-size="8.5" text-anchor="middle" fill="#333">A-311</text>
<polygon points="940.0,772.0 920.7,792.0 959.3,792.0" fill="#111" stroke="#111" stroke-width="0.5"/>
<circle cx="940.0" cy="792.0" r="14.5" fill="#fff" stroke="#111" stroke-width="1.0"/>
<line x1="925.5" y1="792.0" x2="954.5" y2="792.0" stroke="#111" stroke-width="0.8"/>
<text x="940.0" y="789.5" font-size="8" text-anchor="middle" fill="#333">C</text>
<text x="940.0" y="801.0" font-size="8.5" text-anchor="middle" fill="#333">A-302</text>
<polygon points="351.2,1176.0 331.2,1156.7 331.2,1195.3" fill="#111" stroke="#111" stroke-width="0.5"/>
<circle cx="331.2" cy="1176.0" r="14.5" fill="#fff" stroke="#111" stroke-width="1.0"/>
<line x1="316.7" y1="1176.0" x2="345.7" y2="1176.0" stroke="#111" stroke-width="0.8"/>
<text x="331.2" y="1173.5" font-size="8" text-anchor="middle" fill="#333">1</text>
<text x="331.2" y="1185.0" font-size="8.5" text-anchor="middle" fill="#333">A-311</text>
<polygon points="352.8,1176.0 372.8,1156.7 372.8,1195.3" fill="#111" stroke="#111" stroke-width="0.5"/>
<circle cx="372.8" cy="1176.0" r="14.5" fill="#fff" stroke="#111" stroke-width="1.0"/>
<line x1="358.3" y1="1176.0" x2="387.3" y2="1176.0" stroke="#111" stroke-width="0.8"/>
<text x="372.8" y="1173.5" font-size="8" text-anchor="middle" fill="#333">A</text>
<text x="372.8" y="1185.0" font-size="8.5" text-anchor="middle" fill="#333">A-301</text>
<line x1="331.2" y1="1148.0" x2="331.2" y2="1163.0" stroke="#333" stroke-width="0.8"/>
<line x1="372.8" y1="1148.0" x2="372.8" y2="1163.0" stroke="#333" stroke-width="0.8"/>
<line x1="515.0" y1="1148.0" x2="515.0" y2="1163.0" stroke="#333" stroke-width="0.8"/>
<line x1="559.0" y1="1148.0" x2="559.0" y2="1163.0" stroke="#333" stroke-width="0.8"/>
<polygon points="495.0,1176.0 515.0,1156.7 515.0,1195.3" fill="#111" stroke="#111" stroke-width="0.5"/>
<circle cx="515.0" cy="1176.0" r="14.5" fill="#fff" stroke="#111" stroke-width="1.0"/>
<line x1="500.5" y1="1176.0" x2="529.5" y2="1176.0" stroke="#111" stroke-width="0.8"/>
<text x="515.0" y="1173.5" font-size="8" text-anchor="middle" fill="#333">4</text>
<text x="515.0" y="1185.0" font-size="8.5" text-anchor="middle" fill="#333">A-312</text>
<polygon points="539.0,1176.0 559.0,1156.7 559.0,1195.3" fill="#111" stroke="#111" stroke-width="0.5"/>
<circle cx="559.0" cy="1176.0" r="14.5" fill="#fff" stroke="#111" stroke-width="1.0"/>
<line x1="544.5" y1="1176.0" x2="573.5" y2="1176.0" stroke="#111" stroke-width="0.8"/>
<text x="559.0" y="1173.5" font-size="8" text-anchor="middle" fill="#333">B</text>
<text x="559.0" y="1185.0" font-size="8.5" text-anchor="middle" fill="#333">A-301</text>
<line x1="868.0" y1="792.0" x2="883.0" y2="792.0" stroke="#444" stroke-width="0.8"/>
<text x="305.0" y="152.0" font-size="15.6" text-anchor="middle" font-weight="bold" textLength="48.0" lengthAdjust="spacingAndGlyphs" fill="#111">Gacebo</text>
<text x="305.0" y="172.0" font-size="15.6" text-anchor="middle" font-weight="bold" textLength="68.0" lengthAdjust="spacingAndGlyphs" fill="#111">(By Manuf.</text>
<text x="305.0" y="190.0" font-size="15.6" text-anchor="middle" font-weight="bold" textLength="44.0" lengthAdjust="spacingAndGlyphs" fill="#111">Specs)</text>
<text x="583.0" y="159.0" font-size="15" text-anchor="middle" font-weight="bold" textLength="29.0" lengthAdjust="spacingAndGlyphs" fill="#111">Pool</text>
<text x="583.0" y="179.0" font-size="15" text-anchor="middle" font-weight="bold" textLength="152.0" lengthAdjust="spacingAndGlyphs" fill="#111">(Under separate permit)</text>
<text x="667.0" y="44.5" font-size="14.5" font-weight="bold" textLength="65.0" lengthAdjust="spacingAndGlyphs" fill="#111">Pool Deck</text>
<text x="382.0" y="376.0" font-size="14.5" font-weight="bold" textLength="47.0" lengthAdjust="spacingAndGlyphs" fill="#111">Terrace</text>
<text x="592.0" y="413.6" font-size="14.2" font-weight="bold" textLength="40.0" lengthAdjust="spacingAndGlyphs" fill="#111">Dining</text>
<text x="635.5" y="530.7" font-size="14.5" font-weight="bold" textLength="48.2" lengthAdjust="spacingAndGlyphs" fill="#111">Kitchen</text>
<text x="440.0" y="569.0" font-size="14.2" font-weight="bold" textLength="39.0" lengthAdjust="spacingAndGlyphs" fill="#111">Living</text>
<text x="604.8" y="695.4" font-size="14.5" font-weight="bold" textLength="52.2" lengthAdjust="spacingAndGlyphs" fill="#111">Laundry</text>
<text x="711.6" y="705.2" font-size="14.5" font-weight="bold" textLength="41.1" lengthAdjust="spacingAndGlyphs" fill="#111">Pantry</text>
<text x="436.0" y="742.0" font-size="14.3" text-anchor="middle" font-weight="bold" textLength="22.0" lengthAdjust="spacingAndGlyphs" fill="#111">A/C</text>
<text x="436.0" y="760.6" font-size="14.3" text-anchor="middle" font-weight="bold" textLength="13.0" lengthAdjust="spacingAndGlyphs" fill="#111">#1</text>
<text x="318.0" y="783.0" font-size="14.5" font-weight="bold" textLength="71.0" lengthAdjust="spacingAndGlyphs" fill="#111">Guest Bath</text>
<text x="293.6" y="857.0" font-size="14.5" font-weight="bold" textLength="82.4" lengthAdjust="spacingAndGlyphs" fill="#111">Guest Closet</text>
<text x="295.0" y="920.0" font-size="14.5" font-weight="bold" textLength="79.0" lengthAdjust="spacingAndGlyphs" fill="#111">Guest Room</text>
<text x="550.0" y="837.4" font-size="14.5" font-weight="bold" textLength="29.0" lengthAdjust="spacingAndGlyphs" fill="#111">Stair</text>
<text x="518.0" y="905.6" font-size="14.5" font-weight="bold" textLength="35.6" lengthAdjust="spacingAndGlyphs" fill="#111">Foyer</text>
<text x="673.0" y="838.0" font-size="14.5" font-weight="bold" textLength="45.4" lengthAdjust="spacingAndGlyphs" fill="#111">Garage</text>
<text x="492.0" y="996.0" font-size="14.5" font-weight="bold" textLength="37.5" lengthAdjust="spacingAndGlyphs" fill="#111">Porch</text>
<text x="664.5" y="55.0" font-size="8.0" fill="#2a2a2a">EL.+18.66' N.G.V.D.</text>
<text x="664.5" y="62.8" font-size="8.0" fill="#2a2a2a">El.+0'-6-1/2" (Datum)</text>
<line x1="663.5" y1="64.9" x2="742.5" y2="64.9" stroke="#333" stroke-width="0.6"/>
<text x="664.5" y="73.0" font-size="8.0" fill="#2a2a2a">T.O. SLAB</text>
<circle cx="657.2" cy="65.2" r="5.5" fill="#fff" stroke="#222" stroke-width="0.8"/>
<path d="M657.2,65.2 L657.2,59.7 A5.5,5.5 0 0 1 662.7,65.2 Z M657.2,65.2 L657.2,70.7 A5.5,5.5 0 0 1 651.7,65.2 Z" fill="#111"/>
<line x1="650.2" y1="65.2" x2="663.7" y2="65.2" stroke="#444" stroke-width="0.5"/>
<line x1="657.2" y1="58.7" x2="657.2" y2="72.2" stroke="#444" stroke-width="0.5"/>
<text x="375.0" y="385.0" font-size="8.0" fill="#2a2a2a">EL.+21.13' N.G.V.D.</text>
<text x="375.0" y="392.8" font-size="8.0" fill="#2a2a2a">El.+0'-1/2" (Datum)</text>
<line x1="374.0" y1="394.9" x2="448.0" y2="394.9" stroke="#333" stroke-width="0.6"/>
<text x="375.0" y="403.0" font-size="8.0" fill="#2a2a2a">T.O. SLAB</text>
<circle cx="367.7" cy="395.2" r="5.5" fill="#fff" stroke="#222" stroke-width="0.8"/>
<path d="M367.7,395.2 L367.7,389.7 A5.5,5.5 0 0 1 373.2,395.2 Z M367.7,395.2 L367.7,400.7 A5.5,5.5 0 0 1 362.2,395.2 Z" fill="#111"/>
<line x1="360.7" y1="395.2" x2="374.2" y2="395.2" stroke="#444" stroke-width="0.5"/>
<line x1="367.7" y1="388.7" x2="367.7" y2="402.2" stroke="#444" stroke-width="0.5"/>
<text x="450.0" y="588.0" font-size="8.0" fill="#2a2a2a">EL.+21.17' N.G.V.D.</text>
<text x="450.0" y="595.8" font-size="8.0" fill="#2a2a2a">El.+0'-0" (Datum)</text>
<line x1="449.0" y1="597.9" x2="519.0" y2="597.9" stroke="#333" stroke-width="0.6"/>
<text x="450.0" y="606.0" font-size="8.0" fill="#2a2a2a">T.O. SLAB</text>
<circle cx="442.7" cy="598.2" r="5.5" fill="#fff" stroke="#222" stroke-width="0.8"/>
<path d="M442.7,598.2 L442.7,592.7 A5.5,5.5 0 0 1 448.2,598.2 Z M442.7,598.2 L442.7,603.7 A5.5,5.5 0 0 1 437.2,598.2 Z" fill="#111"/>
<line x1="435.7" y1="598.2" x2="449.2" y2="598.2" stroke="#444" stroke-width="0.5"/>
<line x1="442.7" y1="591.7" x2="442.7" y2="605.2" stroke="#444" stroke-width="0.5"/>
<text x="502.7" y="770.6" font-size="8.0" fill="#2a2a2a">EL.+19.82' N.G.V.D.</text>
<text x="502.7" y="778.4" font-size="8.0" fill="#2a2a2a">El.+0'-7-1/2" (Datum)</text>
<line x1="501.7" y1="780.5" x2="581.7" y2="780.5" stroke="#333" stroke-width="0.6"/>
<text x="502.7" y="788.6" font-size="8.0" fill="#2a2a2a">T.O. SLAB</text>
<circle cx="495.4" cy="780.8" r="5.5" fill="#fff" stroke="#222" stroke-width="0.8"/>
<path d="M495.4,780.8 L495.4,775.3 A5.5,5.5 0 0 1 500.9,780.8 Z M495.4,780.8 L495.4,786.3 A5.5,5.5 0 0 1 489.9,780.8 Z" fill="#111"/>
<line x1="488.4" y1="780.8" x2="501.9" y2="780.8" stroke="#444" stroke-width="0.5"/>
<line x1="495.4" y1="774.3" x2="495.4" y2="787.8" stroke="#444" stroke-width="0.5"/>
<text x="507.7" y="921.0" font-size="8.0" fill="#2a2a2a">EL.+20.45' N.G.V.D.</text>
<text x="507.7" y="928.8" font-size="8.0" fill="#2a2a2a">El.+1'-3" (Datum)</text>
<line x1="506.7" y1="930.9" x2="576.7" y2="930.9" stroke="#333" stroke-width="0.6"/>
<text x="507.7" y="939.0" font-size="8.0" fill="#2a2a2a">T.O. SLAB</text>
<circle cx="500.4" cy="931.2" r="5.5" fill="#fff" stroke="#222" stroke-width="0.8"/>
<path d="M500.4,931.2 L500.4,925.7 A5.5,5.5 0 0 1 505.9,931.2 Z M500.4,931.2 L500.4,936.7 A5.5,5.5 0 0 1 494.9,931.2 Z" fill="#111"/>
<line x1="493.4" y1="931.2" x2="506.9" y2="931.2" stroke="#444" stroke-width="0.5"/>
<line x1="500.4" y1="924.7" x2="500.4" y2="938.2" stroke="#444" stroke-width="0.5"/>
<text x="496.4" y="1012.6" font-size="8.0" fill="#2a2a2a">EL.+20.41' N.G.V.D.</text>
<text x="496.4" y="1020.4" font-size="8.0" fill="#2a2a2a">El.+1'-2-1/2" (Datum)</text>
<line x1="495.4" y1="1022.5" x2="575.4" y2="1022.5" stroke="#333" stroke-width="0.6"/>
<text x="496.4" y="1030.6" font-size="8.0" fill="#2a2a2a">T.O. SLAB</text>
<circle cx="489.1" cy="1022.8" r="5.5" fill="#fff" stroke="#222" stroke-width="0.8"/>
<path d="M489.1,1022.8 L489.1,1017.3 A5.5,5.5 0 0 1 494.6,1022.8 Z M489.1,1022.8 L489.1,1028.3 A5.5,5.5 0 0 1 483.6,1022.8 Z" fill="#111"/>
<line x1="482.1" y1="1022.8" x2="495.6" y2="1022.8" stroke="#444" stroke-width="0.5"/>
<line x1="489.1" y1="1016.3" x2="489.1" y2="1029.8" stroke="#444" stroke-width="0.5"/>
<text x="310.0" y="929.1" font-size="8.0" fill="#2a2a2a">El.+0'-0" (Datum)</text>
<line x1="309.0" y1="931.2" x2="375.0" y2="931.2" stroke="#333" stroke-width="0.6"/>
<text x="310.0" y="939.3" font-size="8.0" fill="#2a2a2a">T.O. SLAB</text>
<circle cx="301.5" cy="931.5" r="5.5" fill="#fff" stroke="#222" stroke-width="0.8"/>
<path d="M301.5,931.5 L301.5,926.0 A5.5,5.5 0 0 1 307.0,931.5 Z M301.5,931.5 L301.5,937.0 A5.5,5.5 0 0 1 296.0,931.5 Z" fill="#111"/>
<line x1="294.5" y1="931.5" x2="308.0" y2="931.5" stroke="#444" stroke-width="0.5"/>
<line x1="301.5" y1="925.0" x2="301.5" y2="938.5" stroke="#444" stroke-width="0.5"/>
<text x="666.0" y="803.1" font-size="8.0" fill="#2a2a2a">El.+-0'-6" (Datum)</text>
<line x1="665.0" y1="805.2" x2="735.0" y2="805.2" stroke="#333" stroke-width="0.6"/>
<text x="666.0" y="813.3" font-size="8.0" fill="#2a2a2a">HEIGHEST P.O. SLAB</text>
<circle cx="659.0" cy="805.5" r="5.5" fill="#fff" stroke="#222" stroke-width="0.8"/>
<path d="M659.0,805.5 L659.0,800.0 A5.5,5.5 0 0 1 664.5,805.5 Z M659.0,805.5 L659.0,811.0 A5.5,5.5 0 0 1 653.5,805.5 Z" fill="#111"/>
<line x1="652.0" y1="805.5" x2="665.5" y2="805.5" stroke="#444" stroke-width="0.5"/>
<line x1="659.0" y1="799.0" x2="659.0" y2="812.5" stroke="#444" stroke-width="0.5"/>
<text x="655.0" y="1040.6" font-size="8.0" fill="#2a2a2a">El.+-0'-11-1/2" (Datum)</text>
<line x1="654.0" y1="1042.7" x2="742.0" y2="1042.7" stroke="#333" stroke-width="0.6"/>
<text x="655.0" y="1050.8" font-size="8.0" fill="#2a2a2a">HEIGHEST P.O. SLAB</text>
<circle cx="647.4" cy="1043.0" r="5.5" fill="#fff" stroke="#222" stroke-width="0.8"/>
<path d="M647.4,1043.0 L647.4,1037.5 A5.5,5.5 0 0 1 652.9,1043.0 Z M647.4,1043.0 L647.4,1048.5 A5.5,5.5 0 0 1 641.9,1043.0 Z" fill="#111"/>
<line x1="640.4" y1="1043.0" x2="653.9" y2="1043.0" stroke="#444" stroke-width="0.5"/>
<line x1="647.4" y1="1036.5" x2="647.4" y2="1050.0" stroke="#444" stroke-width="0.5"/>
<text x="425.0" y="36.0" font-size="7.9" fill="#2a2a2a">ALUMINUM POOL GAZEBO STRUCTURE BY ARTE</text>
<text x="425.0" y="45.6" font-size="7.9" fill="#2a2a2a">PATIO SHOP, NOT IN SCOPE OF WORK.</text>
<text x="425.0" y="55.2" font-size="7.9" fill="#2a2a2a">CONTRACTOR TO PROVIDE SHOP DRAWINGS</text>
<text x="425.0" y="64.8" font-size="7.9" fill="#2a2a2a">AND CALCULATIONS SIGNED AND SEALED BY A</text>
<text x="425.0" y="74.4" font-size="7.9" fill="#2a2a2a">FLORIDA REGISTERED P.E. FOR AHJ AND</text>
<text x="425.0" y="84.0" font-size="7.9" fill="#2a2a2a">ARCHITECTS REVIEW</text>
<text x="349.5" y="287.5" font-size="7.9" fill="#2a2a2a">CONC. SLAB ON GRADE,</text>
<text x="349.5" y="296.9" font-size="7.9" fill="#2a2a2a">SLOPE DN 1/8" PER FT</text>
<text x="349.5" y="306.3" font-size="7.9" fill="#2a2a2a">TOWARDS BACKYARD</text>
<text x="195.0" y="167.5" font-size="8" text-anchor="middle" fill="#444">POOL</text>
<text x="195.0" y="177.5" font-size="8" text-anchor="middle" fill="#444">EQUIPMENT</text>
<text x="244.0" y="123.0" font-size="8" text-anchor="middle" fill="#555">UC</text>
<text x="244.0" y="132.5" font-size="8" text-anchor="middle" fill="#555">REF.</text>
<text x="251.0" y="172.0" font-size="7.5" fill="#666">SK.</text>
<text x="217.0" y="547.0" font-size="8" fill="#2a2a2a">NEW</text>
<text x="217.0" y="556.6" font-size="8" fill="#2a2a2a">CONDENSING</text>
<text x="217.0" y="566.3" font-size="8" fill="#2a2a2a">UNIT</text>
<text x="217.0" y="576.0" font-size="8" fill="#2a2a2a">ON CONC. PAD</text>
<text x="347.0" y="665.0" font-size="8" fill="#2a2a2a">ALL CLOSET</text>
<text x="347.0" y="674.6" font-size="8" fill="#2a2a2a">AND</text>
<text x="347.0" y="684.2" font-size="8" fill="#2a2a2a">BATHROOM</text>
<text x="347.0" y="693.8" font-size="8" fill="#2a2a2a">INTERIOR</text>
<text x="347.0" y="703.4" font-size="8" fill="#2a2a2a">PARTITIONS</text>
<text x="347.0" y="713.0" font-size="8" fill="#2a2a2a">UON</text>
<text x="494.5" y="661.0" font-size="8" fill="#2a2a2a">6" PARTITION TO</text>
<text x="494.5" y="670.8" font-size="8" fill="#2a2a2a">ACCOMMODATE STEEL</text>
<text x="494.5" y="680.5" font-size="8" fill="#2a2a2a">HSS. REFER TO</text>
<text x="494.5" y="690.2" font-size="8" fill="#2a2a2a">STRUCTURAL</text>
<text x="494.5" y="700.0" font-size="8" fill="#2a2a2a">DRAWINGS FOR</text>
<text x="494.5" y="709.8" font-size="8" fill="#2a2a2a">COLUMN LOCATION.</text>
<text x="602.0" y="465.0" font-size="8" fill="#2a2a2a">PROVIDE</text>
<text x="602.0" y="474.4" font-size="8" fill="#2a2a2a">ELECTRICAL</text>
<text x="602.0" y="483.8" font-size="8" fill="#2a2a2a">CONNECTION</text>
<text x="602.0" y="493.2" font-size="8" fill="#2a2a2a">FOR UNDER</text>
<text x="602.0" y="502.6" font-size="8" fill="#2a2a2a">CABINET LIGHTS</text>
<text x="319.5" y="808.0" font-size="8" fill="#2a2a2a">SAFETY GLASS</text>
<text x="319.5" y="817.4" font-size="8" fill="#2a2a2a">CAT. II (TYP).</text>
<text x="259.5" y="1049.5" font-size="8" fill="#2a2a2a">8" CMU PLANTER</text>
<text x="259.5" y="1059.0" font-size="8" fill="#2a2a2a">WALL WITH STUCCO</text>
<text x="259.5" y="1068.5" font-size="8" fill="#2a2a2a">FINISH. T.O. PLANTER</text>
<text x="259.5" y="1078.0" font-size="8" fill="#2a2a2a">WALL 1'-4" AFF</text>
<text x="336.8" y="1023.0" font-size="8" fill="#2a2a2a">EGRESS</text>
<text x="642.0" y="862.4" font-size="8" fill="#2a2a2a">6" CONC. SLAB ON</text>
<text x="642.0" y="872.2" font-size="8" fill="#2a2a2a">GRADE, SLOPE DN 1/4"</text>
<text x="642.0" y="882.0" font-size="8" fill="#2a2a2a">PER FT TOWARDS</text>
<text x="642.0" y="891.8" font-size="8" fill="#2a2a2a">GARAGE DOOR</text>
<text x="695.7" y="848.8" font-size="7.5" text-anchor="middle" fill="#2a2a2a">309.56 S.F.</text>
<text x="660.8" y="986.0" font-size="8" fill="#2a2a2a">LINE DENOTES</text>
<text x="660.8" y="995.3" font-size="8" fill="#2a2a2a">OPEN DOOR AND</text>
<text x="660.8" y="1004.6" font-size="8" fill="#2a2a2a">MOTOR ABOVE</text>
<text x="760.5" y="746.8" font-size="8" fill="#2a2a2a">ELECT.</text>
<text x="760.5" y="756.7" font-size="8" fill="#2a2a2a">PNL.</text>
<text x="884.6" y="814.0" font-size="8" fill="#2a2a2a">WALL</text>
<text x="884.6" y="823.7" font-size="8" fill="#2a2a2a">MOUNTED</text>
<text x="884.6" y="833.4" font-size="8" fill="#2a2a2a">ELECTRICAL</text>
<text x="884.6" y="843.1" font-size="8" fill="#2a2a2a">METER AND</text>
<text x="884.6" y="852.8" font-size="8" fill="#2a2a2a">DISCONNECT</text>
<text x="883.0" y="909.5" font-size="8" fill="#555">WORKSHOP AREA</text>
<text x="882.0" y="654.0" font-size="8" fill="#555">SHELF @ 4'</text>
<text x="882.0" y="663.7" font-size="8" fill="#555">A.F.F AND</text>
<text x="882.0" y="673.4" font-size="8" fill="#555">ADDITIONAL</text>
<text x="882.0" y="683.1" font-size="8" fill="#555">@12" ABOVE</text>
<text x="565.2" y="891.5" font-size="7.5" text-anchor="middle" fill="#555">UP</text>
<text x="4.0" y="605.0" font-size="14.2" textLength="205.0" lengthAdjust="spacingAndGlyphs" style="stroke:none" fill="#8f8f8f">A11744378 © Miami MLS® 2025</text>
<polygon points="281.0,121.0 285.6,113.0 304.4,113.0 309.0,121.0 304.4,129.0 285.6,129.0" fill="#fff" stroke="#222" stroke-width="0.9"/>
<text x="295.0" y="123.9" font-size="8" text-anchor="middle" fill="#333">7</text>
<line x1="262.0" y1="121.0" x2="281.0" y2="121.0" stroke="#222" stroke-width="0.9"/>
<line x1="261.0" y1="121.0" x2="264.9" y2="118.8" stroke="#111" stroke-width="1.4" stroke-linecap="round"/>
<line x1="261.0" y1="121.0" x2="264.9" y2="123.2" stroke="#111" stroke-width="1.4" stroke-linecap="round"/>
<polygon points="281.0,210.0 285.6,202.0 304.4,202.0 309.0,210.0 304.4,218.0 285.6,218.0" fill="#fff" stroke="#222" stroke-width="0.9"/>
<text x="295.0" y="212.9" font-size="8" text-anchor="middle" fill="#333">8</text>
<line x1="258.0" y1="210.0" x2="281.0" y2="210.0" stroke="#222" stroke-width="0.9"/>
<line x1="257.0" y1="210.0" x2="260.9" y2="207.8" stroke="#111" stroke-width="1.4" stroke-linecap="round"/>
<line x1="257.0" y1="210.0" x2="260.9" y2="212.2" stroke="#111" stroke-width="1.4" stroke-linecap="round"/>
<polygon points="672.6,479.0 677.2,471.0 696.0,471.0 700.6,479.0 696.0,487.0 677.2,487.0" fill="#fff" stroke="#222" stroke-width="0.9"/>
<text x="686.6" y="481.9" font-size="8" text-anchor="middle" fill="#333">5</text>
<line x1="700.6" y1="479.0" x2="727.0" y2="479.0" stroke="#333" stroke-width="0.9"/>
<line x1="728.0" y1="479.0" x2="723.7" y2="481.5" stroke="#111" stroke-width="1.4" stroke-linecap="round"/>
<line x1="728.0" y1="479.0" x2="723.7" y2="476.5" stroke="#111" stroke-width="1.4" stroke-linecap="round"/>
<polygon points="671.7,543.5 676.3,535.5 695.1,535.5 699.7,543.5 695.1,551.5 676.3,551.5" fill="#fff" stroke="#222" stroke-width="0.9"/>
<text x="685.7" y="546.4" font-size="8" text-anchor="middle" fill="#333">4</text>
<line x1="699.7" y1="543.5" x2="721.0" y2="545.0" stroke="#555" stroke-width="0.7"/>
<line x1="723.0" y1="545.0" x2="719.0" y2="547.0" stroke="#111" stroke-width="1.4" stroke-linecap="round"/>
<line x1="723.0" y1="545.0" x2="719.2" y2="542.5" stroke="#111" stroke-width="1.4" stroke-linecap="round"/>
<polygon points="671.7,559.4 676.3,551.4 695.1,551.4 699.7,559.4 695.1,567.4 676.3,567.4" fill="#fff" stroke="#222" stroke-width="0.9"/>
<text x="685.7" y="562.3" font-size="8" text-anchor="middle" fill="#333">3</text>
<line x1="699.7" y1="559.4" x2="731.0" y2="561.5" stroke="#555" stroke-width="0.7"/>
<line x1="733.0" y1="561.5" x2="729.0" y2="563.5" stroke="#111" stroke-width="1.4" stroke-linecap="round"/>
<line x1="733.0" y1="561.5" x2="729.2" y2="559.0" stroke="#111" stroke-width="1.4" stroke-linecap="round"/>
<polygon points="671.7,587.0 676.3,579.0 695.1,579.0 699.7,587.0 695.1,595.0 676.3,595.0" fill="#fff" stroke="#222" stroke-width="0.9"/>
<text x="685.7" y="589.9" font-size="8" text-anchor="middle" fill="#333">1</text>
<line x1="672.0" y1="584.0" x2="646.0" y2="569.0" stroke="#333" stroke-width="0.8"/>
<line x1="645.0" y1="568.5" x2="649.5" y2="568.5" stroke="#111" stroke-width="1.4" stroke-linecap="round"/>
<line x1="645.0" y1="568.5" x2="647.2" y2="572.4" stroke="#111" stroke-width="1.4" stroke-linecap="round"/>
<polygon points="672.0,604.0 676.6,596.0 695.4,596.0 700.0,604.0 695.4,612.0 676.6,612.0" fill="#fff" stroke="#222" stroke-width="0.9"/>
<text x="686.0" y="606.9" font-size="8" text-anchor="middle" fill="#333">2</text>
<line x1="672.0" y1="604.0" x2="650.0" y2="604.0" stroke="#333" stroke-width="0.9"/>
<line x1="648.0" y1="604.0" x2="651.9" y2="601.8" stroke="#111" stroke-width="1.4" stroke-linecap="round"/>
<line x1="648.0" y1="604.0" x2="651.9" y2="606.2" stroke="#111" stroke-width="1.4" stroke-linecap="round"/>
<polygon points="672.0,633.6 676.6,625.6 695.4,625.6 700.0,633.6 695.4,641.6 676.6,641.6" fill="#fff" stroke="#222" stroke-width="0.9"/>
<text x="686.0" y="636.5" font-size="8" text-anchor="middle" fill="#333">2</text>
<line x1="700.0" y1="633.6" x2="727.0" y2="633.6" stroke="#333" stroke-width="0.9"/>
<line x1="728.0" y1="633.6" x2="723.7" y2="636.1" stroke="#111" stroke-width="1.4" stroke-linecap="round"/>
<line x1="728.0" y1="633.6" x2="723.7" y2="631.1" stroke="#111" stroke-width="1.4" stroke-linecap="round"/>
<polygon points="655.0,710.0 659.6,702.0 678.4,702.0 683.0,710.0 678.4,718.0 659.6,718.0" fill="#fff" stroke="#222" stroke-width="0.9"/>
<text x="669.0" y="712.9" font-size="8" text-anchor="middle" fill="#333">6</text>
<line x1="655.0" y1="708.5" x2="631.0" y2="702.0" stroke="#333" stroke-width="0.8"/>
<line x1="629.6" y1="701.8" x2="634.0" y2="700.7" stroke="#111" stroke-width="1.4" stroke-linecap="round"/>
<line x1="629.6" y1="701.8" x2="632.7" y2="705.0" stroke="#111" stroke-width="1.4" stroke-linecap="round"/>
<polygon points="513.5,408.0 508.8,415.6 499.2,415.6 494.5,408.0 499.2,400.4 508.8,400.4" fill="#fff" stroke="#222" stroke-width="0.9"/>
<text x="504.0" y="410.9" font-size="8" text-anchor="middle" fill="#333">C</text>
<polygon points="299.5,502.0 294.8,509.6 285.2,509.6 280.5,502.0 285.2,494.4 294.8,494.4" fill="#fff" stroke="#222" stroke-width="0.9"/>
<text x="290.0" y="504.9" font-size="8" text-anchor="middle" fill="#333">F</text>
<polygon points="240.0,781.6 235.2,789.2 225.8,789.2 221.0,781.6 225.8,774.0 235.2,774.0" fill="#fff" stroke="#222" stroke-width="0.9"/>
<text x="230.5" y="784.5" font-size="8" text-anchor="middle" fill="#333">E</text>
<polygon points="238.5,896.7 233.8,904.3 224.2,904.3 219.5,896.7 224.2,889.1 233.8,889.1" fill="#fff" stroke="#222" stroke-width="0.9"/>
<text x="229.0" y="899.6" font-size="8" text-anchor="middle" fill="#333">F</text>
<polygon points="366.2,1049.5 361.4,1057.1 351.9,1057.1 347.2,1049.5 351.9,1041.9 361.4,1041.9" fill="#fff" stroke="#222" stroke-width="0.9"/>
<text x="356.7" y="1052.4" font-size="8" text-anchor="middle" fill="#333">A</text>
<line x1="484.0" y1="408.0" x2="494.0" y2="408.0" stroke="#444" stroke-width="0.7"/>
<circle cx="624.7" cy="343.0" r="7" fill="#fff" stroke="#222" stroke-width="0.9"/>
<text x="624.7" y="345.7" font-size="7.5" text-anchor="middle" fill="#333">E4</text>
<circle cx="422.5" cy="444.6" r="7.8" fill="#fff" stroke="#222" stroke-width="0.9"/>
<text x="422.5" y="447.3" font-size="7.5" text-anchor="middle" fill="#333">E3</text>
<circle cx="549.4" cy="966.4" r="8.1" fill="#fff" stroke="#222" stroke-width="0.9"/>
<text x="549.4" y="969.1" font-size="7.5" text-anchor="middle" fill="#333">E2</text>
<circle cx="699.4" cy="1087.0" r="8" fill="#fff" stroke="#222" stroke-width="0.9"/>
<text x="699.4" y="1089.7" font-size="7.5" text-anchor="middle" fill="#333">E1</text>
<circle cx="817.3" cy="802.3" r="8" fill="#fff" stroke="#222" stroke-width="0.9"/>
<text x="817.3" y="805.0" font-size="7.5" text-anchor="middle" fill="#333">E5</text>
<line x1="624.7" y1="328.0" x2="624.7" y2="336.0" stroke="#444" stroke-width="0.7"/>
<circle cx="676.6" cy="691.6" r="7.6" fill="#fff" stroke="#222" stroke-width="0.9"/>
<text x="676.6" y="694.3" font-size="7.5" text-anchor="middle" fill="#333">5</text>
<circle cx="685.6" cy="762.5" r="8" fill="#fff" stroke="#222" stroke-width="0.9"/>
<text x="685.6" y="765.2" font-size="7.5" text-anchor="middle" fill="#333">6</text>
<circle cx="435.0" cy="775.8" r="7.8" fill="#fff" stroke="#222" stroke-width="0.9"/>
<text x="435.0" y="778.5" font-size="7.5" text-anchor="middle" fill="#333">4</text>
<circle cx="399.3" cy="808.9" r="7.9" fill="#fff" stroke="#222" stroke-width="0.9"/>
<text x="399.3" y="811.6" font-size="7.5" text-anchor="middle" fill="#333">3</text>
<circle cx="436.8" cy="841.0" r="7.8" fill="#fff" stroke="#222" stroke-width="0.9"/>
<text x="436.8" y="843.7" font-size="7.5" text-anchor="middle" fill="#333">1</text>
<circle cx="330.6" cy="883.0" r="7.8" fill="#fff" stroke="#222" stroke-width="0.9"/>
<text x="330.6" y="885.7" font-size="7.5" text-anchor="middle" fill="#333">2</text>
<rect x="325.0" y="698.7" width="14.0" height="14.0" rx="0" fill="#fff" stroke="#222" stroke-width="1.0"/>
<text x="332.0" y="708.6" font-size="8" text-anchor="middle" fill="#333">C</text>
<line x1="332.0" y1="712.7" x2="332.0" y2="739.0" stroke="#222" stroke-width="1.0"/>
<rect x="427.0" y="683.0" width="14.0" height="14.0" rx="0" fill="#fff" stroke="#222" stroke-width="1.0"/>
<text x="434.0" y="692.9" font-size="8" text-anchor="middle" fill="#333">B</text>
<line x1="434.0" y1="697.0" x2="434.0" y2="723.0" stroke="#222" stroke-width="1.0"/>
<rect x="641.5" y="634.8" width="15.5" height="15.5" rx="0" fill="#fff" stroke="#222" stroke-width="1.0"/>
<text x="649.3" y="645.4" font-size="8" text-anchor="middle" fill="#333">B</text>
<line x1="649.3" y1="650.3" x2="649.3" y2="671.0" stroke="#222" stroke-width="1.0"/>
<rect x="274.0" y="852.8" width="14.0" height="14.0" rx="0" fill="#fff" stroke="#222" stroke-width="1.0"/>
<text x="281.0" y="862.7" font-size="8" text-anchor="middle" fill="#333">C</text>
<line x1="281.0" y1="824.0" x2="281.0" y2="852.8" stroke="#222" stroke-width="1.0"/>
<rect x="428.9" y="851.1" width="15.5" height="15.5" rx="0" fill="#fff" stroke="#222" stroke-width="1.0"/>
<text x="436.6" y="861.8" font-size="8" text-anchor="middle" fill="#333">A</text>
<line x1="404.0" y1="858.9" x2="429.0" y2="858.9" stroke="#222" stroke-width="1.0"/>
<rect x="483.4" y="894.7" width="15.0" height="15.0" rx="0" fill="#fff" stroke="#222" stroke-width="1.0"/>
<text x="490.9" y="905.1" font-size="8" text-anchor="middle" fill="#333">B</text>
<line x1="458.0" y1="902.2" x2="483.4" y2="902.2" stroke="#222" stroke-width="1.0"/>
<polygon points="359.5,187.4 374.5,187.4 367.0,176.6" fill="#fff" stroke="#555" stroke-width="0.8"/>
<text x="367.0" y="185.9" font-size="7" text-anchor="middle" fill="#555">1</text>
<polygon points="254.5,532.4 269.5,532.4 262.0,521.6" fill="#fff" stroke="#555" stroke-width="0.8"/>
<text x="262.0" y="530.9" font-size="7" text-anchor="middle" fill="#555">1</text>
<polygon points="644.0,834.2 659.0,834.2 651.5,823.4" fill="#fff" stroke="#555" stroke-width="0.8"/>
<text x="651.5" y="832.7" font-size="7" text-anchor="middle" fill="#555">2</text>
<polygon points="780.5,1131.4 795.5,1131.4 788.0,1120.6" fill="#fff" stroke="#555" stroke-width="0.8"/>
<text x="788.0" y="1129.9" font-size="7" text-anchor="middle" fill="#555">1</text>
<polygon points="818.9,931.1 833.9,931.1 826.4,920.3" fill="#fff" stroke="#222" stroke-width="0.8"/>
<text x="826.4" y="929.6" font-size="7" text-anchor="middle" fill="#222">4</text>
<polygon points="818.9,945.4 833.9,945.4 826.4,934.6" fill="#fff" stroke="#222" stroke-width="0.8"/>
<text x="826.4" y="943.9" font-size="7" text-anchor="middle" fill="#222">5</text>
<polyline points="346.0,662.0 332.0,662.0 332.0,694.0" fill="none" stroke="#333" stroke-width="0.7"/>
<line x1="332.0" y1="696.0" x2="329.8" y2="692.1" stroke="#111" stroke-width="1.4" stroke-linecap="round"/>
<line x1="332.0" y1="696.0" x2="334.2" y2="692.1" stroke="#111" stroke-width="1.4" stroke-linecap="round"/>
<polyline points="238.0,579.0 270.0,579.0 270.0,608.0" fill="none" stroke="#333" stroke-width="0.7"/>
<line x1="269.0" y1="610.0" x2="266.8" y2="606.1" stroke="#111" stroke-width="1.4" stroke-linecap="round"/>
<line x1="269.0" y1="610.0" x2="271.2" y2="606.1" stroke="#111" stroke-width="1.4" stroke-linecap="round"/>
<polyline points="494.0,660.0 478.0,660.0 466.0,712.0" fill="none" stroke="#555" stroke-width="0.6"/>
<line x1="466.0" y1="713.0" x2="464.8" y2="709.2" stroke="#111" stroke-width="1.4" stroke-linecap="round"/>
<line x1="466.0" y1="713.0" x2="468.7" y2="710.1" stroke="#111" stroke-width="1.4" stroke-linecap="round"/>
<polyline points="675.0,502.0 700.0,508.0 732.0,527.0" fill="none" stroke="#999" stroke-width="0.5"/>
<line x1="733.0" y1="528.0" x2="728.6" y2="527.2" stroke="#111" stroke-width="1.4" stroke-linecap="round"/>
<line x1="733.0" y1="528.0" x2="731.5" y2="523.8" stroke="#111" stroke-width="1.4" stroke-linecap="round"/>
<polyline points="622.7,737.4 636.0,804.8 652.0,804.8" fill="none" stroke="#555" stroke-width="0.6"/>
<circle cx="622.7" cy="737.4" r="2.6" fill="#111"/>
<circle cx="608.5" cy="1065.6" r="2.6" fill="#111"/>
<polyline points="608.5,1065.6 633.0,1043.5 641.0,1043.5" fill="none" stroke="#555" stroke-width="0.6"/>
<polyline points="680.0,890.5 697.0,890.5 703.0,907.0" fill="none" stroke="#555" stroke-width="0.6" stroke-dasharray="3 2"/>
<line x1="703.5" y1="909.0" x2="700.1" y2="906.1" stroke="#111" stroke-width="1.4" stroke-linecap="round"/>
<line x1="703.5" y1="909.0" x2="704.3" y2="904.6" stroke="#111" stroke-width="1.4" stroke-linecap="round"/>
<polyline points="660.0,986.0 652.0,986.0 652.0,960.0" fill="none" stroke="#555" stroke-width="0.6"/>
<line x1="652.0" y1="958.0" x2="654.2" y2="961.9" stroke="#111" stroke-width="1.4" stroke-linecap="round"/>
<line x1="652.0" y1="958.0" x2="649.8" y2="961.9" stroke="#111" stroke-width="1.4" stroke-linecap="round"/>
<line x1="787.0" y1="907.0" x2="883.0" y2="907.0" stroke="#555" stroke-width="0.7" stroke-dasharray="10 3"/>
<line x1="785.0" y1="907.0" x2="788.9" y2="904.8" stroke="#111" stroke-width="1.4" stroke-linecap="round"/>
<line x1="785.0" y1="907.0" x2="788.9" y2="909.2" stroke="#111" stroke-width="1.4" stroke-linecap="round"/>
<line x1="620.0" y1="900.0" x2="620.0" y2="1048.0" stroke="#444" stroke-width="0.8"/>
<line x1="620.0" y1="1050.6" x2="617.5" y2="1046.3" stroke="#111" stroke-width="1.4" stroke-linecap="round"/>
<line x1="620.0" y1="1050.6" x2="622.5" y2="1046.3" stroke="#111" stroke-width="1.4" stroke-linecap="round"/>
<polyline points="259.5,1058.0 254.0,1061.0 254.0,1082.0" fill="none" stroke="#555" stroke-width="0.6"/>
<line x1="254.0" y1="1084.0" x2="251.8" y2="1080.1" stroke="#111" stroke-width="1.4" stroke-linecap="round"/>
<line x1="254.0" y1="1084.0" x2="256.2" y2="1080.1" stroke="#111" stroke-width="1.4" stroke-linecap="round"/>
<rect x="807.5" y="728.4" width="6.2" height="14.2" rx="0" fill="#fff" stroke="#333" stroke-width="0.8"/>
<rect x="807.5" y="747.0" width="6.2" height="13.6" rx="0" fill="#fff" stroke="#333" stroke-width="0.8"/>
<polyline points="815.0,736.0 867.5,736.0 867.5,812.0 884.0,812.0" fill="none" stroke="#555" stroke-width="0.7"/>
<line x1="814.0" y1="736.0" x2="817.9" y2="733.8" stroke="#111" stroke-width="1.4" stroke-linecap="round"/>
<line x1="814.0" y1="736.0" x2="817.9" y2="738.2" stroke="#111" stroke-width="1.4" stroke-linecap="round"/>
<line x1="815.0" y1="754.0" x2="867.5" y2="754.0" stroke="#555" stroke-width="0.7"/>
<line x1="814.0" y1="754.0" x2="817.9" y2="751.8" stroke="#111" stroke-width="1.4" stroke-linecap="round"/>
<line x1="814.0" y1="754.0" x2="817.9" y2="756.2" stroke="#111" stroke-width="1.4" stroke-linecap="round"/>
<line x1="735.0" y1="688.0" x2="748.0" y2="676.0" stroke="#777" stroke-width="0.6"/>
<polyline points="731.0,688.0 731.0,693.0 736.0,693.0" fill="none" stroke="#222" stroke-width="1.1"/>
<line x1="355.0" y1="376.0" x2="355.0" y2="445.0" stroke="#333" stroke-width="0.9"/>
<line x1="355.0" y1="375.0" x2="357.5" y2="379.3" stroke="#111" stroke-width="1.4" stroke-linecap="round"/>
<line x1="355.0" y1="375.0" x2="352.5" y2="379.3" stroke="#111" stroke-width="1.4" stroke-linecap="round"/>
<text transform="translate(351.5,412.0) rotate(-90)" font-size="8" text-anchor="middle" fill="#2a2a2a">1/4"/FT SLOPE</text>
<line x1="624.7" y1="842.0" x2="624.7" y2="910.0" stroke="#444" stroke-width="0.8"/>
<line x1="624.7" y1="840.0" x2="627.2" y2="844.3" stroke="#111" stroke-width="1.4" stroke-linecap="round"/>
<line x1="624.7" y1="840.0" x2="622.2" y2="844.3" stroke="#111" stroke-width="1.4" stroke-linecap="round"/>
<text transform="translate(620.5,876.0) rotate(-90)" font-size="8" text-anchor="middle" fill="#2a2a2a">SLOPE 1/4"/FT</text>
<line x1="583.5" y1="974.0" x2="583.5" y2="1063.0" stroke="#444" stroke-width="0.8"/>
<line x1="583.5" y1="1065.0" x2="581.0" y2="1060.7" stroke="#111" stroke-width="1.4" stroke-linecap="round"/>
<line x1="583.5" y1="1065.0" x2="586.0" y2="1060.7" stroke="#111" stroke-width="1.4" stroke-linecap="round"/>
<text transform="translate(580.0,1028.0) rotate(-90)" font-size="8" text-anchor="middle" fill="#2a2a2a">1/4"/FT SLOPE</text>
<line x1="451.5" y1="381.0" x2="449.0" y2="376.7" stroke="#111" stroke-width="1.4" stroke-linecap="round"/>
<line x1="451.5" y1="381.0" x2="454.0" y2="376.7" stroke="#111" stroke-width="1.4" stroke-linecap="round"/>
<line x1="451.5" y1="347.0" x2="451.5" y2="380.0" stroke="#666" stroke-width="0.6"/>
<rect x="242.0" y="609.0" width="59.0" height="115.0" rx="0" fill="none" stroke="#999" stroke-width="0.6"/>
<rect x="246.0" y="614.0" width="40.0" height="40.0" rx="0" fill="none" stroke="#888" stroke-width="0.6"/>
<rect x="246.0" y="670.0" width="40.0" height="40.0" rx="0" fill="none" stroke="#888" stroke-width="0.6"/>
<line x1="246.0" y1="662.0" x2="286.0" y2="662.0" stroke="#bbb" stroke-width="0.5"/>
<circle cx="266.0" cy="634.4" r="18" fill="none" stroke="#666" stroke-width="0.7"/>
<circle cx="266.0" cy="634.4" r="15.6" fill="none" stroke="#666" stroke-width="0.7"/>
<circle cx="266.0" cy="634.4" r="13.2" fill="none" stroke="#666" stroke-width="0.7"/>
<circle cx="266.0" cy="634.4" r="10.8" fill="none" stroke="#666" stroke-width="0.7"/>
<circle cx="266.0" cy="634.4" r="8.4" fill="none" stroke="#666" stroke-width="0.7"/>
<circle cx="266.0" cy="634.4" r="6" fill="none" stroke="#666" stroke-width="0.7"/>
<circle cx="266.0" cy="634.4" r="3.6" fill="none" stroke="#666" stroke-width="0.7"/>
<line x1="248.0" y1="634.4" x2="284.0" y2="634.4" stroke="#555" stroke-width="0.8"/>
<line x1="253.3" y1="621.7" x2="278.7" y2="647.1" stroke="#555" stroke-width="0.8"/>
<line x1="266.0" y1="616.4" x2="266.0" y2="652.4" stroke="#555" stroke-width="0.8"/>
<line x1="278.7" y1="621.7" x2="253.3" y2="647.1" stroke="#555" stroke-width="0.8"/>
<circle cx="266.0" cy="634.4" r="2" fill="#fff" stroke="#555" stroke-width="0.6"/>
<circle cx="266.0" cy="689.0" r="18" fill="none" stroke="#666" stroke-width="0.7"/>
<circle cx="266.0" cy="689.0" r="15.6" fill="none" stroke="#666" stroke-width="0.7"/>
<circle cx="266.0" cy="689.0" r="13.2" fill="none" stroke="#666" stroke-width="0.7"/>
<circle cx="266.0" cy="689.0" r="10.8" fill="none" stroke="#666" stroke-width="0.7"/>
<circle cx="266.0" cy="689.0" r="8.4" fill="none" stroke="#666" stroke-width="0.7"/>
<circle cx="266.0" cy="689.0" r="6" fill="none" stroke="#666" stroke-width="0.7"/>
<circle cx="266.0" cy="689.0" r="3.6" fill="none" stroke="#666" stroke-width="0.7"/>
<line x1="248.0" y1="689.0" x2="284.0" y2="689.0" stroke="#555" stroke-width="0.8"/>
<line x1="253.3" y1="676.3" x2="278.7" y2="701.7" stroke="#555" stroke-width="0.8"/>
<line x1="266.0" y1="671.0" x2="266.0" y2="707.0" stroke="#555" stroke-width="0.8"/>
<line x1="278.7" y1="676.3" x2="253.3" y2="701.7" stroke="#555" stroke-width="0.8"/>
<circle cx="266.0" cy="689.0" r="2" fill="#fff" stroke="#555" stroke-width="0.6"/>
<path d="M301.0,536.0 A5.2,5.2 0 0 1 292.0,536.0 A5.2,5.2 0 0 1 283.0,536.0 A5.2,5.2 0 0 1 274.0,536.0 A5.2,5.2 0 0 1 265.0,536.0 A5.2,5.2 0 0 1 256.0,536.0 A5.2,5.2 0 0 1 247.0,536.0 A5.2,5.2 0 0 1 238.0,536.0 A5.2,5.2 0 0 1 229.0,536.0 A5.2,5.2 0 0 1 220.0,536.0 A5.2,5.2 0 0 1 211.0,536.0" fill="none" stroke="#8a8a8a" stroke-width="0.7"/>
<path d="M211.0,536.0 A5.2,5.2 0 0 1 211.0,545.0 A5.2,5.2 0 0 1 211.0,554.1 A5.2,5.2 0 0 1 211.0,563.1 A5.2,5.2 0 0 1 211.0,572.2 A5.2,5.2 0 0 1 211.0,581.2 A5.2,5.2 0 0 1 211.0,590.3 A5.2,5.2 0 0 1 211.0,599.3 A5.2,5.2 0 0 1 211.0,608.4 A5.2,5.2 0 0 1 211.0,617.4 A5.2,5.2 0 0 1 211.0,626.5 A5.2,5.2 0 0 1 211.0,635.5 A5.2,5.2 0 0 1 211.0,644.5 A5.2,5.2 0 0 1 211.0,653.6 A5.2,5.2 0 0 1 211.0,662.6 A5.2,5.2 0 0 1 211.0,671.7 A5.2,5.2 0 0 1 211.0,680.7 A5.2,5.2 0 0 1 211.0,689.8 A5.2,5.2 0 0 1 211.0,698.8 A5.2,5.2 0 0 1 211.0,707.9 A5.2,5.2 0 0 1 211.0,716.9 A5.2,5.2 0 0 1 211.0,726.0 A5.2,5.2 0 0 1 211.0,735.0" fill="none" stroke="#ccc" stroke-width="0.7"/>
<path d="M211.0,737.0 A4.3,4.3 0 0 0 218.5,737.0 A4.3,4.3 0 0 0 226.0,737.0 A4.3,4.3 0 0 0 233.5,737.0 A4.3,4.3 0 0 0 241.0,737.0" fill="none" stroke="#aaa" stroke-width="0.7"/>
<line x1="722.6" y1="465.5" x2="722.6" y2="670.0" stroke="#555" stroke-width="0.8"/>
<line x1="754.0" y1="465.5" x2="754.0" y2="670.0" stroke="#777" stroke-width="0.6"/>
<line x1="722.6" y1="501.0" x2="754.0" y2="501.0" stroke="#555" stroke-width="0.8"/>
<line x1="722.6" y1="545.0" x2="754.0" y2="545.0" stroke="#555" stroke-width="0.8"/>
<line x1="722.6" y1="590.5" x2="754.0" y2="590.5" stroke="#555" stroke-width="0.8"/>
<line x1="722.6" y1="621.7" x2="754.0" y2="621.7" stroke="#555" stroke-width="0.8"/>
<line x1="722.6" y1="655.8" x2="754.0" y2="655.8" stroke="#555" stroke-width="0.8"/>
<line x1="721.0" y1="470.0" x2="721.0" y2="493.0" stroke="#444" stroke-width="1.6"/>
<rect x="723" y="545.5" width="30.5" height="44.5" fill="url(#stip)"/>
<circle cx="729.5" cy="553.0" r="3.6" fill="#fff" stroke="#666" stroke-width="0.7"/>
<circle cx="746.0" cy="552.0" r="4.6" fill="#fff" stroke="#666" stroke-width="0.7"/>
<circle cx="737.0" cy="563.0" r="3.8" fill="#fff" stroke="#666" stroke-width="0.7"/>
<circle cx="729.0" cy="575.0" r="4.8" fill="#fff" stroke="#666" stroke-width="0.7"/>
<circle cx="746.0" cy="573.0" r="3.6" fill="#fff" stroke="#666" stroke-width="0.7"/>
<text x="738.0" y="587.5" font-size="5" text-anchor="middle" fill="#666">ooooo</text>
<line x1="731.0" y1="470.0" x2="731.0" y2="720.0" stroke="#888" stroke-width="0.6" stroke-dasharray="14 3 3 3"/>
<polyline points="629.4,516.0 609.0,516.0 609.0,620.0 662.0,620.0 662.0,529.0" fill="none" stroke="#aaa" stroke-width="0.6"/>
<line x1="629.4" y1="516.0" x2="629.4" y2="620.0" stroke="#aaa" stroke-width="0.6" stroke-dasharray="3 2"/>
<line x1="609.0" y1="516.0" x2="629.0" y2="516.0" stroke="#777" stroke-width="0.7"/>
<rect x="633.5" y="553.0" width="25.0" height="30.4" rx="0" fill="none" stroke="#666" stroke-width="0.8"/>
<circle cx="641.0" cy="568.0" r="1.2" fill="none" stroke="#555" stroke-width="0.6"/>
<rect x="632.0" y="587.7" width="30.0" height="30.7" rx="0" fill="none" stroke="#666" stroke-width="0.9" stroke-dasharray="4 2.5"/>
<polyline points="654.5,438.0 654.5,463.0 642.0,463.0" fill="none" stroke="#333" stroke-width="1.0"/>
<rect x="642.0" y="461.5" width="12.5" height="3.0" rx="0" fill="none" stroke="#333" stroke-width="0.7"/>
<polyline points="390.0,465.0 390.0,493.0 380.0,493.0" fill="none" stroke="#333" stroke-width="1.2"/>
<polyline points="382.0,461.0 388.0,466.0" fill="none" stroke="#222" stroke-width="1.3"/>
<polyline points="331.4,1026.0 331.4,998.4 343.4,998.4 343.4,1000.5 333.0,1000.5" fill="none" stroke="#444" stroke-width="0.9"/>
<polyline points="754.8,778.0 754.8,790.8 779.5,790.8" fill="none" stroke="#333" stroke-width="1.3"/>
<rect x="405.7" y="440.6" width="4" height="29.399999999999977" fill="#666" stroke="#222" stroke-width="0.6"/>
<text x="398.0" y="458.0" font-size="7.5" text-anchor="middle" fill="#444">1/2"</text>
<rect x="511.0" y="942.5" width="4" height="31.5" fill="#666" stroke="#222" stroke-width="0.6"/>
<text x="502.5" y="966.0" font-size="7.5" text-anchor="middle" fill="#444">1/2"</text>
<line x1="503.3" y1="943.5" x2="515.0" y2="943.5" stroke="#444" stroke-width="2"/>
<rect x="655.0" y="1054.8" width="4" height="29.90000000000009" fill="#666" stroke="#222" stroke-width="0.6"/>
<text x="646.0" y="1075.0" font-size="7.5" text-anchor="middle" fill="#444">1/2"</text>
<rect x="793.7" y="785.5" width="29.8" height="3.4" fill="#666" stroke="#222" stroke-width="0.6"/>
<text x="816.0" y="783.0" font-size="7.5" text-anchor="middle" fill="#444">1/2</text>
<rect x="509.7" y="718" width="3.8" height="13.3" fill="#8a8a8a"/>
<rect x="499" y="725.6" width="14.5" height="5.7" fill="#8a8a8a"/>
<rect x="509.7" y="828.8" width="3.8" height="14.2" fill="#8a8a8a"/>
<rect x="499" y="836.7" width="14.5" height="6.3" fill="#8a8a8a"/>
<rect x="461.4" y="801.3" width="7.6" height="15.2" fill="#8a8a8a"/>
<rect x="453" y="810.8" width="16.0" height="5.7" fill="#8a8a8a"/>
<rect x="845.3" y="803" width="6.7" height="13.0" fill="#8a8a8a"/>
<rect x="845.3" y="811.7" width="14.2" height="4.3" fill="#8a8a8a"/>
<line x1="845.0" y1="803.0" x2="852.0" y2="803.0" stroke="#222" stroke-width="0.9"/>
<rect x="547" y="1064" width="13.2" height="8.0" fill="#8a8a8a"/>
<rect x="555" y="1072" width="5.0" height="8.0" fill="#8a8a8a"/>
<rect x="569" y="1087" width="13.0" height="9.0" fill="#8a8a8a"/>
<rect x="697.5" y="727.5" width="12.3" height="7.5" fill="#8a8a8a"/>
<rect x="705" y="735" width="4.8" height="7.6" fill="#8a8a8a"/>
<line x1="666.0" y1="730.0" x2="697.0" y2="730.0" stroke="#555" stroke-width="0.8" stroke-dasharray="8 3"/>
<rect x="369" y="344" width="4.0" height="14.0" fill="#8a8a8a"/>
<rect x="360" y="352.5" width="13.0" height="5.5" fill="#8a8a8a"/>
<polyline points="360.0,352.5 369.0,352.5 369.0,344.0" fill="none" stroke="#333" stroke-width="0.7"/>
<text x="500.0" y="722.5" font-size="7" text-anchor="middle" fill="#555">7-1/2"</text>
<text x="505.0" y="828.0" font-size="7" text-anchor="middle" fill="#555">7-1/2"</text>
<text x="449.0" y="809.0" font-size="7" text-anchor="middle" fill="#666">7-1/2"</text>
<text x="856.0" y="810.5" font-size="7.5" text-anchor="middle" fill="#444">6"</text>
<text x="563.0" y="1100.0" font-size="7.5" text-anchor="middle" fill="#444">6"</text>
<text x="699.4" y="748.5" font-size="7" text-anchor="middle" fill="#444">6"</text>
<line x1="686.0" y1="752.7" x2="714.6" y2="752.7" stroke="#444" stroke-width="0.7"/>
<circle cx="697.5" cy="752.7" r="1.2" fill="#222"/>
<line x1="695.0" y1="755.2" x2="700.0" y2="750.2" stroke="#222" stroke-width="0.9"/>
<circle cx="704.7" cy="752.7" r="1.2" fill="#222"/>
<line x1="702.2" y1="755.2" x2="707.2" y2="750.2" stroke="#222" stroke-width="0.9"/>
<polyline points="499.0,725.6 509.7,725.6 509.7,718.0" fill="none" stroke="#333" stroke-width="0.8"/>
<polyline points="499.0,836.7 509.7,836.7 509.7,828.8" fill="none" stroke="#333" stroke-width="0.8"/>
<polyline points="453.0,810.8 461.4,810.8 461.4,801.3" fill="none" stroke="#333" stroke-width="0.8"/>
<line x1="564.2" y1="796.3" x2="587.3" y2="796.3" stroke="#555" stroke-width="0.7"/>
<line x1="545.1" y1="808.3" x2="587.3" y2="808.3" stroke="#555" stroke-width="0.7"/>
<line x1="537.0" y1="821.0" x2="587.3" y2="821.0" stroke="#555" stroke-width="0.7"/>
<line x1="537.0" y1="833.8" x2="587.3" y2="833.8" stroke="#555" stroke-width="0.7"/>
<line x1="537.0" y1="846.5" x2="587.3" y2="846.5" stroke="#555" stroke-width="0.7"/>
<line x1="537.0" y1="859.3" x2="587.3" y2="859.3" stroke="#555" stroke-width="0.7"/>
<line x1="537.0" y1="872.0" x2="587.3" y2="872.0" stroke="#555" stroke-width="0.7"/>
<line x1="537.0" y1="884.4" x2="587.3" y2="884.4" stroke="#555" stroke-width="0.7"/>
<line x1="535.5" y1="814.3" x2="535.5" y2="896.0" stroke="#555" stroke-width="0.8"/>
<line x1="537.2" y1="814.3" x2="537.2" y2="896.0" stroke="#888" stroke-width="0.5"/>
<line x1="535.5" y1="814.3" x2="585.8" y2="782.8" stroke="#444" stroke-width="0.8"/>
<line x1="582.8" y1="785.0" x2="582.8" y2="896.0" stroke="#999" stroke-width="0.6"/>
<line x1="585.0" y1="783.0" x2="585.0" y2="896.0" stroke="#999" stroke-width="0.6"/>
<line x1="564.5" y1="799.0" x2="564.5" y2="879.5" stroke="#333" stroke-width="0.8"/>
<line x1="564.5" y1="797.8" x2="566.8" y2="801.7" stroke="#111" stroke-width="1.4" stroke-linecap="round"/>
<line x1="564.5" y1="797.8" x2="562.2" y2="801.7" stroke="#111" stroke-width="1.4" stroke-linecap="round"/>
<circle cx="564.5" cy="881.8" r="2.5" fill="none" stroke="#444" stroke-width="0.7"/>
<line x1="483.0" y1="836.0" x2="550.0" y2="836.0" stroke="#555" stroke-width="0.7"/>
<rect x="602.7" y="682.5" width="38.3" height="34.1" rx="0" fill="none" stroke="#555" stroke-width="0.8"/>
<line x1="665.0" y1="681.0" x2="684.0" y2="681.0" stroke="#333" stroke-width="1.8"/>
<rect x="660.0" y="676.4" width="5.0" height="3.6" fill="url(#diag)" stroke="#222" stroke-width="0.9"/>
<rect x="659.5" y="720.0" width="5.5" height="3.5" fill="url(#diag)" stroke="#222" stroke-width="0.9"/>
<rect x="253.0" y="738.0" width="47.0" height="94.0" rx="0" fill="none" stroke="#666" stroke-width="0.7"/>
<line x1="253.0" y1="738.0" x2="300.0" y2="832.0" stroke="#999" stroke-width="0.5"/>
<line x1="300.0" y1="738.0" x2="253.0" y2="832.0" stroke="#999" stroke-width="0.5"/>
<line x1="300.0" y1="738.0" x2="300.0" y2="791.0" stroke="#333" stroke-width="1.6"/>
<line x1="300.0" y1="791.0" x2="300.0" y2="832.0" stroke="#444" stroke-width="0.8"/>
<line x1="305.9" y1="738.0" x2="305.9" y2="832.0" stroke="#666" stroke-width="0.7" stroke-dasharray="10 4"/>
<line x1="264.0" y1="738.0" x2="264.0" y2="832.0" stroke="#555" stroke-width="0.7"/>
<line x1="253.0" y1="751.8" x2="300.0" y2="751.8" stroke="#555" stroke-width="0.7"/>
<circle cx="253.0" cy="751.8" r="1.2" fill="#222"/>
<line x1="250.5" y1="754.3" x2="255.5" y2="749.3" stroke="#222" stroke-width="0.9"/>
<circle cx="300.0" cy="751.8" r="1.2" fill="#222"/>
<line x1="297.5" y1="754.3" x2="302.5" y2="749.3" stroke="#222" stroke-width="0.9"/>
<circle cx="264.0" cy="738.0" r="1.2" fill="#222"/>
<line x1="261.5" y1="740.5" x2="266.5" y2="735.5" stroke="#222" stroke-width="0.9"/>
<circle cx="264.0" cy="832.0" r="1.2" fill="#222"/>
<line x1="261.5" y1="834.5" x2="266.5" y2="829.5" stroke="#222" stroke-width="0.9"/>
<line x1="290.5" y1="791.8" x2="290.5" y2="832.0" stroke="#555" stroke-width="0.7"/>
<circle cx="290.5" cy="791.8" r="1.2" fill="#222"/>
<line x1="288.0" y1="794.3" x2="293.0" y2="789.3" stroke="#222" stroke-width="0.9"/>
<circle cx="290.5" cy="832.0" r="1.2" fill="#222"/>
<line x1="288.0" y1="834.5" x2="293.0" y2="829.5" stroke="#222" stroke-width="0.9"/>
<line x1="287.0" y1="791.8" x2="313.5" y2="791.8" stroke="#333" stroke-width="0.9"/>
<rect x="310" y="791.8" width="3.5" height="10.2" fill="#999" stroke="#333" stroke-width="0.7"/>
<polyline points="311.5,802.0 311.5,804.6 319.0,804.6" fill="none" stroke="#666" stroke-width="0.6"/>
<rect x="364.7" y="745.0" width="20.3" height="17.9" rx="0" fill="none" stroke="#555" stroke-width="0.8"/>
<line x1="375.0" y1="741.6" x2="375.0" y2="749.0" stroke="#777" stroke-width="1.8"/>
<rect x="309.3" y="738.0" width="23.7" height="9.5" rx="2" fill="none" stroke="#999" stroke-width="0.6"/>
<rect x="311.0" y="747.5" width="20.5" height="28.1" rx="7" fill="none" stroke="#999" stroke-width="0.6"/>
<line x1="288.8" y1="765.4" x2="403.0" y2="765.4" stroke="#444" stroke-width="0.8"/>
<circle cx="300.0" cy="765.4" r="1.3" fill="#222"/>
<line x1="297.5" y1="767.9" x2="302.5" y2="762.9" stroke="#222" stroke-width="0.9"/>
<circle cx="321.2" cy="765.4" r="1.3" fill="#222"/>
<line x1="318.7" y1="767.9" x2="323.7" y2="762.9" stroke="#222" stroke-width="0.9"/>
<circle cx="343.0" cy="765.4" r="1.3" fill="#222"/>
<line x1="340.5" y1="767.9" x2="345.5" y2="762.9" stroke="#222" stroke-width="0.9"/>
<line x1="343.0" y1="738.0" x2="343.0" y2="765.4" stroke="#666" stroke-width="0.7"/>
<line x1="387.7" y1="738.0" x2="387.7" y2="790.0" stroke="#555" stroke-width="0.7"/>
<circle cx="387.7" cy="772.2" r="1.2" fill="#222"/>
<line x1="385.2" y1="774.7" x2="390.2" y2="769.7" stroke="#222" stroke-width="0.9"/>
<path d="M363,824 A41,41 0 0 1 404,783" fill="none" stroke="#666" stroke-width="0.7"/>
<line x1="363.0" y1="824.2" x2="404.0" y2="824.2" stroke="#555" stroke-width="0.8"/>
<path d="M412,832.6 A44,44 0 0 0 456,876.6" fill="none" stroke="#777" stroke-width="0.6"/>
<line x1="456.0" y1="832.6" x2="456.0" y2="877.0" stroke="#888" stroke-width="0.6"/>
<path d="M668.2,778.5 A43.5,43.5 0 0 0 711.7,735" fill="none" stroke="#555" stroke-width="0.7"/>
<line x1="668.2" y1="735.0" x2="668.2" y2="778.5" stroke="#444" stroke-width="0.8"/>
<path d="M852,768 A45,45 0 0 1 807,813" fill="none" stroke="#555" stroke-width="0.7"/>
<rect x="803.7" y="766.3" width="48.3" height="1.9" rx="0" fill="none" stroke="#444" stroke-width="0.7"/>
<polyline points="852.0,803.0 852.0,826.0 807.0,826.0" fill="none" stroke="#555" stroke-width="0.7"/>
<path d="M531.3,958 Q527,992 486.7,1001" fill="none" stroke="#555" stroke-width="0.7"/>
<line x1="486.7" y1="957.0" x2="486.7" y2="1001.0" stroke="#999" stroke-width="0.5" stroke-dasharray="6 3"/>
<line x1="576.0" y1="957.0" x2="576.0" y2="1001.0" stroke="#999" stroke-width="0.5" stroke-dasharray="6 3"/>
<line x1="473.0" y1="957.3" x2="580.0" y2="957.3" stroke="#555" stroke-width="0.7"/>
<path d="M531.3,958 Q536,992 566.3,1001" fill="none" stroke="#555" stroke-width="0.7"/>
<line x1="531.5" y1="958.0" x2="531.5" y2="1090.0" stroke="#888" stroke-width="0.6" stroke-dasharray="14 4"/>
<path d="M722,705 A24,24 0 0 0 750,722" fill="none" stroke="#aaa" stroke-width="0.6"/>
<rect x="456.0" y="775.8" width="2.6" height="18.9" rx="0" fill="none" stroke="#555" stroke-width="0.7"/>
<rect x="421.7" y="730.0" width="29.3" height="31.5" rx="0" fill="none" stroke="#bbb" stroke-width="0.5"/>
<polygon points="739.7,734.0 759.6,734.0 741.0,740.5" fill="#111" stroke="#111" stroke-width="0.5"/>
<path d="M660.0,819.0 A5.1,5.1 0 0 1 668.9,819.0 A5.1,5.1 0 0 1 677.8,819.0 A5.1,5.1 0 0 1 686.6,819.0 A5.1,5.1 0 0 1 695.5,819.0 A5.1,5.1 0 0 1 704.4,819.0 A5.1,5.1 0 0 1 713.2,819.0 A5.1,5.1 0 0 1 722.1,819.0 A5.1,5.1 0 0 1 731.0,819.0" fill="none" stroke="#777" stroke-width="0.7"/>
<path d="M660.0,860.0 A4.7,4.7 0 0 1 660.0,851.8 A4.7,4.7 0 0 1 660.0,843.6 A4.7,4.7 0 0 1 660.0,835.4 A4.7,4.7 0 0 1 660.0,827.2 A4.7,4.7 0 0 1 660.0,819.0" fill="none" stroke="#999" stroke-width="0.7"/>
<path d="M700.0,860.0 A4.6,4.6 0 0 1 692.0,860.0 A4.6,4.6 0 0 1 684.0,860.0 A4.6,4.6 0 0 1 676.0,860.0 A4.6,4.6 0 0 1 668.0,860.0 A4.6,4.6 0 0 1 660.0,860.0" fill="none" stroke="#999" stroke-width="0.7"/>
<path d="M576.0,908.5 A5.6,5.6 0 0 0 585.7,908.5 A5.6,5.6 0 0 0 595.4,908.5 A5.6,5.6 0 0 0 605.1,908.5 A5.6,5.6 0 0 0 614.8,908.5 A5.6,5.6 0 0 0 624.4,908.5 A5.6,5.6 0 0 0 634.1,908.5 A5.6,5.6 0 0 0 643.8,908.5 A5.6,5.6 0 0 0 653.5,908.5 A5.6,5.6 0 0 0 663.2,908.5 A5.6,5.6 0 0 0 672.9,908.5 A5.6,5.6 0 0 0 682.6,908.5 A5.6,5.6 0 0 0 692.2,908.5 A5.6,5.6 0 0 0 701.9,908.5 A5.6,5.6 0 0 0 711.6,908.5 A5.6,5.6 0 0 0 721.3,908.5 A5.6,5.6 0 0 0 731.0,908.5" fill="none" stroke="#777" stroke-width="0.7"/>
<path d="M600.0,958.0 A5.8,5.8 0 0 0 610.1,958.0 A5.8,5.8 0 0 0 620.2,958.0 A5.8,5.8 0 0 0 630.2,958.0 A5.8,5.8 0 0 0 640.3,958.0 A5.8,5.8 0 0 0 650.4,958.0 A5.8,5.8 0 0 0 660.5,958.0 A5.8,5.8 0 0 0 670.5,958.0 A5.8,5.8 0 0 0 680.6,958.0 A5.8,5.8 0 0 0 690.7,958.0 A5.8,5.8 0 0 0 700.8,958.0 A5.8,5.8 0 0 0 710.8,958.0 A5.8,5.8 0 0 0 720.9,958.0 A5.8,5.8 0 0 0 731.0,958.0" fill="none" stroke="#777" stroke-width="0.7"/>
<path d="M600.0,1057.7 A5.8,5.8 0 0 0 610.1,1057.7 A5.8,5.8 0 0 0 620.2,1057.7 A5.8,5.8 0 0 0 630.2,1057.7 A5.8,5.8 0 0 0 640.3,1057.7 A5.8,5.8 0 0 0 650.4,1057.7 A5.8,5.8 0 0 0 660.5,1057.7 A5.8,5.8 0 0 0 670.5,1057.7 A5.8,5.8 0 0 0 680.6,1057.7 A5.8,5.8 0 0 0 690.7,1057.7 A5.8,5.8 0 0 0 700.8,1057.7 A5.8,5.8 0 0 0 710.8,1057.7 A5.8,5.8 0 0 0 720.9,1057.7 A5.8,5.8 0 0 0 731.0,1057.7" fill="none" stroke="#aaa" stroke-width="0.7"/>
<path d="M731.0,740.0 A5.8,5.8 0 0 1 731.0,750.0 A5.8,5.8 0 0 1 731.0,760.0 A5.8,5.8 0 0 1 731.0,770.0 A5.8,5.8 0 0 1 731.0,780.0 A5.8,5.8 0 0 1 731.0,790.0 A5.8,5.8 0 0 1 731.0,800.0 A5.8,5.8 0 0 1 731.0,810.0 A5.8,5.8 0 0 1 731.0,820.0 A5.8,5.8 0 0 1 731.0,830.0 A5.8,5.8 0 0 1 731.0,840.0 A5.8,5.8 0 0 1 731.0,850.0 A5.8,5.8 0 0 1 731.0,860.0 A5.8,5.8 0 0 1 731.0,870.0 A5.8,5.8 0 0 1 731.0,880.0 A5.8,5.8 0 0 1 731.0,890.0 A5.8,5.8 0 0 1 731.0,900.0 A5.8,5.8 0 0 1 731.0,910.0 A5.8,5.8 0 0 1 731.0,920.0 A5.8,5.8 0 0 1 731.0,930.0 A5.8,5.8 0 0 1 731.0,940.0 A5.8,5.8 0 0 1 731.0,950.0 A5.8,5.8 0 0 1 731.0,960.0 A5.8,5.8 0 0 1 731.0,970.0 A5.8,5.8 0 0 1 731.0,980.0 A5.8,5.8 0 0 1 731.0,990.0 A5.8,5.8 0 0 1 731.0,1000.0 A5.8,5.8 0 0 1 731.0,1010.0 A5.8,5.8 0 0 1 731.0,1020.0 A5.8,5.8 0 0 1 731.0,1030.0 A5.8,5.8 0 0 1 731.0,1040.0 A5.8,5.8 0 0 1 731.0,1050.0 A5.8,5.8 0 0 1 731.0,1060.0" fill="none" stroke="#999" stroke-width="0.7"/>
<path d="M775.0,742.0 A5.9,5.9 0 0 0 775.0,752.2 A5.9,5.9 0 0 0 775.0,762.4 A5.9,5.9 0 0 0 775.0,772.6 A5.9,5.9 0 0 0 775.0,782.8 A5.9,5.9 0 0 0 775.0,792.9 A5.9,5.9 0 0 0 775.0,803.1 A5.9,5.9 0 0 0 775.0,813.3 A5.9,5.9 0 0 0 775.0,823.5 A5.9,5.9 0 0 0 775.0,833.7 A5.9,5.9 0 0 0 775.0,843.9 A5.9,5.9 0 0 0 775.0,854.1 A5.9,5.9 0 0 0 775.0,864.2 A5.9,5.9 0 0 0 775.0,874.4 A5.9,5.9 0 0 0 775.0,884.6 A5.9,5.9 0 0 0 775.0,894.8 A5.9,5.9 0 0 0 775.0,905.0" fill="none" stroke="#888" stroke-width="0.7"/>
<path d="M578.0,915.0 A5.8,5.8 0 0 1 578.0,925.0 A5.8,5.8 0 0 1 578.0,935.0 A5.8,5.8 0 0 1 578.0,945.0" fill="none" stroke="#999" stroke-width="0.7"/>
<path d="M733.0,1062.0 A5.0,5.0 0 0 0 737.0,1069.7 A5.0,5.0 0 0 0 741.0,1077.3 A5.0,5.0 0 0 0 745.0,1085.0 A5.8,5.8 0 0 0 755.0,1085.0 A5.8,5.8 0 0 0 765.0,1085.0 A5.8,5.8 0 0 0 775.0,1085.0 A5.0,5.0 0 0 0 777.3,1076.7 A5.0,5.0 0 0 0 779.7,1068.3 A5.0,5.0 0 0 0 782.0,1060.0" fill="none" stroke="#999" stroke-width="0.7"/>
<path d="M808.0,905.0 A5.2,5.2 0 0 1 811.3,913.3 A5.2,5.2 0 0 1 814.7,921.7 A5.2,5.2 0 0 1 818.0,930.0 A6.1,6.1 0 0 1 814.7,940.0 A6.1,6.1 0 0 1 811.3,950.0 A6.1,6.1 0 0 1 808.0,960.0" fill="none" stroke="#aaa" stroke-width="0.7"/>
<path d="M760.0,1118.0 A5.8,5.8 0 0 0 770.0,1118.0 A5.8,5.8 0 0 0 780.0,1118.0 A5.8,5.8 0 0 0 790.0,1118.0" fill="none" stroke="#bbb" stroke-width="0.7"/>
<text x="284.0" y="57.0" font-size="7.6" text-anchor="middle" fill="#333">8'-4"</text>
<text x="240.0" y="69.5" font-size="7.6" text-anchor="middle" fill="#333">2'-5"</text>
<text x="300.0" y="69.5" font-size="7.6" text-anchor="middle" fill="#333">5'-5"</text>
<text x="344.5" y="69.0" font-size="7" text-anchor="middle" fill="#333">6"</text>
<text transform="translate(167.0,168.0) rotate(-90)" font-size="7.6" text-anchor="middle" fill="#333">10'-0"</text>
<text x="231.0" y="324.0" font-size="7.6" text-anchor="middle" fill="#333">1'-3</text>
<text x="272.0" y="324.0" font-size="7.6" text-anchor="middle" fill="#333">4'-0"</text>
<text x="316.0" y="324.0" font-size="7.6" text-anchor="middle" fill="#333">2'-0"</text>
<text x="336.5" y="324.0" font-size="7" text-anchor="middle" fill="#333">8"</text>
<text x="402.0" y="324.0" font-size="7.6" text-anchor="middle" fill="#333">11'-5"</text>
<text x="518.5" y="324.0" font-size="7" text-anchor="middle" fill="#333">8"</text>
<text x="572.0" y="324.0" font-size="7.6" text-anchor="middle" fill="#333">6'-8"</text>
<text x="675.0" y="324.0" font-size="7.6" text-anchor="middle" fill="#333">6'-9"</text>
<text x="729.0" y="324.0" font-size="7" text-anchor="middle" fill="#333">8"</text>
<text x="533.0" y="315.0" font-size="7.6" text-anchor="middle" fill="#555">26'-8</text>
<text x="748.0" y="311.5" font-size="7.6" text-anchor="middle" fill="#333">2'-0"</text>
<text x="784.0" y="311.5" font-size="7.6" text-anchor="middle" fill="#333">2'-8"</text>
<text transform="translate(192.0,361.0) rotate(-90)" font-size="7.6" text-anchor="middle" fill="#333">1'-4"</text>
<text transform="translate(207.0,479.0) rotate(-90)" font-size="7.6" text-anchor="middle" fill="#333">3'-4</text>
<text transform="translate(192.0,415.0) rotate(-90)" font-size="7.6" text-anchor="middle" fill="#777">5'-8</text>
<text x="316.0" y="415.5" font-size="7.6" text-anchor="middle" fill="#333">2'-0"</text>
<text x="377.0" y="415.5" font-size="7.6" text-anchor="middle" fill="#333">6'-0"</text>
<text x="471.0" y="415.5" font-size="7.6" text-anchor="middle" fill="#333">6'-0"</text>
<text transform="translate(481.0,356.5) rotate(-90)" font-size="6.5" text-anchor="middle" fill="#333">6"</text>
<text transform="translate(481.0,365.0) rotate(-90)" font-size="6.5" text-anchor="middle" fill="#333">8"</text>
<text transform="translate(481.0,388.0) rotate(-90)" font-size="7.6" text-anchor="middle" fill="#333">2'-7"</text>
<text transform="translate(481.0,427.0) rotate(-90)" font-size="7.6" text-anchor="middle" fill="#333">2'-7"</text>
<text transform="translate(706.5,358.0) rotate(-90)" font-size="7" text-anchor="middle" fill="#333">1'-2"</text>
<text transform="translate(706.5,415.0) rotate(-90)" font-size="7.6" text-anchor="middle" fill="#333">6'-2</text>
<text transform="translate(705.0,575.0) rotate(-90)" font-size="7.6" text-anchor="middle" fill="#333">14'-0"</text>
<text transform="translate(857.0,415.0) rotate(-90)" font-size="7.6" text-anchor="middle" fill="#333">6'-8</text>
<text transform="translate(857.0,589.0) rotate(-90)" font-size="7.6" text-anchor="middle" fill="#333">16'-0</text>
<text transform="translate(873.5,715.5) rotate(-90)" font-size="7.6" text-anchor="middle" fill="#333">48'-0</text>
<text transform="translate(207.0,615.0) rotate(-90)" font-size="7.6" text-anchor="middle" fill="#333">14'-8</text>
<text transform="translate(207.0,778.8) rotate(-90)" font-size="7.6" text-anchor="middle" fill="#333">4'-8</text>
<text transform="translate(207.0,847.0) rotate(-90)" font-size="7.6" text-anchor="middle" fill="#333">5'-8</text>
<text transform="translate(207.0,969.0) rotate(-90)" font-size="7.6" text-anchor="middle" fill="#333">9'-4</text>
<text transform="translate(192.0,884.0) rotate(-90)" font-size="7.6" text-anchor="middle" fill="#777">20'-6</text>
<text transform="translate(168.0,696.7) rotate(-90)" font-size="7.6" text-anchor="middle" fill="#777">40'-4</text>
<text transform="translate(168.0,295.0) rotate(-90)" font-size="7.6" text-anchor="middle" fill="#777">4'</text>
<text transform="translate(192.0,1062.0) rotate(-90)" font-size="7.6" text-anchor="middle" fill="#555">4'-0</text>
<text x="227.0" y="1008.5" font-size="7.6" text-anchor="middle" fill="#333">1'-11"</text>
<text x="294.0" y="600.5" font-size="7.6" text-anchor="middle" fill="#333">1'-0"</text>
<text transform="translate(291.5,662.0) rotate(-90)" font-size="7" text-anchor="middle" fill="#333">1'-0"</text>
<text transform="translate(290.5,717.0) rotate(-90)" font-size="7" text-anchor="middle" fill="#333">1'-0"</text>
<text x="359.5" y="650.5" font-size="7.6" text-anchor="middle" fill="#666">5'-3"</text>
<text x="434.0" y="650.5" font-size="7.6" text-anchor="middle" fill="#666">5'-9"</text>
<text x="525.0" y="651.0" font-size="7.6" text-anchor="middle" fill="#333">8'-4</text>
<text x="627.5" y="650.0" font-size="7.6" text-anchor="middle" fill="#333">4'-9"</text>
<text x="691.0" y="650.5" font-size="7.6" text-anchor="middle" fill="#333">3'-10"</text>
<text x="738.0" y="650.5" font-size="7.6" text-anchor="middle" fill="#333">2'-5"</text>
<text transform="translate(386.0,588.0) rotate(-90)" font-size="7.6" text-anchor="middle" fill="#333">16'-9</text>
<text transform="translate(705.8,698.0) rotate(-90)" font-size="7.6" text-anchor="middle" fill="#333">3'-5"</text>
<text x="276.0" y="749.3" font-size="7.6" text-anchor="middle" fill="#333">3'-0"</text>
<text transform="translate(261.5,785.0) rotate(-90)" font-size="7.6" text-anchor="middle" fill="#333">6'-2"</text>
<text transform="translate(287.3,812.3) rotate(-90)" font-size="7.6" text-anchor="middle" fill="#333">2'-6"</text>
<text x="311.0" y="763.0" font-size="7.3" text-anchor="middle" fill="#333">1'-5"</text>
<text x="332.3" y="763.0" font-size="7.3" text-anchor="middle" fill="#333">1'-5"</text>
<text transform="translate(386.0,753.0) rotate(-90)" font-size="7" text-anchor="middle" fill="#333">2'-6"</text>
<text transform="translate(386.0,723.0) rotate(-90)" font-size="7" text-anchor="middle" fill="#333">1'-3"</text>
<text transform="translate(386.0,800.4) rotate(-90)" font-size="7.6" text-anchor="middle" fill="#333">4'-1</text>
<text transform="translate(385.0,854.0) rotate(-90)" font-size="7.6" text-anchor="middle" fill="#333">2'-5"</text>
<text transform="translate(385.0,953.5) rotate(-90)" font-size="7.6" text-anchor="middle" fill="#333">10'-</text>
<text x="697.0" y="921.0" font-size="7.6" text-anchor="middle" fill="#333">13'-0"</text>
<text x="681.5" y="933.5" font-size="7.6" text-anchor="middle" fill="#333">11'-0"</text>
<text x="782.3" y="933.0" font-size="7.6" text-anchor="middle" fill="#333">2'-0"</text>
<text transform="translate(754.0,842.0) rotate(-90)" font-size="7.6" text-anchor="middle" fill="#333">14'-0"</text>
<text transform="translate(742.0,903.0) rotate(-90)" font-size="7.6" text-anchor="middle" fill="#333">22'-0"</text>
<text transform="translate(833.5,759.5) rotate(-90)" font-size="7.6" text-anchor="middle" fill="#333">4'-4</text>
<text transform="translate(856.0,842.0) rotate(-90)" font-size="7.6" text-anchor="middle" fill="#333">15'-4</text>
<text transform="translate(833.5,876.0) rotate(-90)" font-size="7.6" text-anchor="middle" fill="#333">11'-0</text>
<text transform="translate(856.4,1019.0) rotate(-90)" font-size="7.6" text-anchor="middle" fill="#333">8'-0</text>
<text transform="translate(754.0,1009.0) rotate(-90)" font-size="7.6" text-anchor="middle" fill="#333">8'-0"</text>
<text x="298.0" y="1106.0" font-size="7.6" text-anchor="middle" fill="#333">7'-8"</text>
<text x="414.0" y="1106.0" font-size="7.6" text-anchor="middle" fill="#333">7'-8"</text>
<text x="400.0" y="1119.0" font-size="7.6" text-anchor="middle" fill="#333">24'-11"</text>
<text x="356.4" y="1131.5" font-size="7.6" text-anchor="middle" fill="#333">15'-4"</text>
<text x="502.0" y="1105.5" font-size="7.6" text-anchor="middle" fill="#333">3'-10"</text>
<text x="548.6" y="1105.5" font-size="7.6" text-anchor="middle" fill="#333">3'-10"</text>
<text x="597.7" y="1087.0" font-size="7" text-anchor="middle" fill="#333">2'-2"</text>
<text x="636.0" y="1105.5" font-size="7.6" text-anchor="middle" fill="#333">6'-2"</text>
<text x="729.8" y="1105.5" font-size="7.6" text-anchor="middle" fill="#333">6'-2"</text>
<text x="683.5" y="1117.5" font-size="7.6" text-anchor="middle" fill="#333">12'-4"</text>
<text x="641.0" y="1129.5" font-size="7.6" text-anchor="middle" fill="#666">22'-0"</text>
<text x="524.0" y="1146.0" font-size="7.6" text-anchor="middle" fill="#333">37'-4"</text>
<text x="791.0" y="1106.5" font-size="7.6" text-anchor="middle" fill="#666">2'-0"</text>
<line x1="723.0" y1="545.0" x2="719.0" y2="547.0" stroke="#111" stroke-width="1.4" stroke-linecap="round"/>
<line x1="723.0" y1="545.0" x2="719.2" y2="542.5" stroke="#111" stroke-width="1.4" stroke-linecap="round"/>
<line x1="733.0" y1="561.5" x2="729.0" y2="563.5" stroke="#111" stroke-width="1.4" stroke-linecap="round"/>
<line x1="733.0" y1="561.5" x2="729.2" y2="559.0" stroke="#111" stroke-width="1.4" stroke-linecap="round"/>
<polyline points="789.0,17.0 797.0,17.0 797.0,25.0" fill="none" stroke="#888" stroke-width="0.6"/>
<line x1="196.0" y1="1074.7" x2="470.0" y2="1074.7" stroke="#666" stroke-width="0.7" stroke-dasharray="14 3 3 3"/>
<line x1="245.0" y1="1038.0" x2="245.0" y2="1100.0" stroke="#666" stroke-width="0.7" stroke-dasharray="14 3 3 3"/>
<line x1="682.5" y1="1072.0" x2="682.5" y2="1109.0" stroke="#444" stroke-width="0.8"/>
<line x1="682.5" y1="1072.0" x2="730.0" y2="1072.0" stroke="#555" stroke-width="0.7"/>
<line x1="720.8" y1="648.4" x2="720.8" y2="664.5" stroke="#444" stroke-width="1.6"/>
<path d="M729.0,716.0 A6.6,6.6 0 0 1 740.5,716.0 A6.6,6.6 0 0 1 752.0,716.0" fill="none" stroke="#999" stroke-width="0.7"/>
</g>
</svg>
</body></html>
